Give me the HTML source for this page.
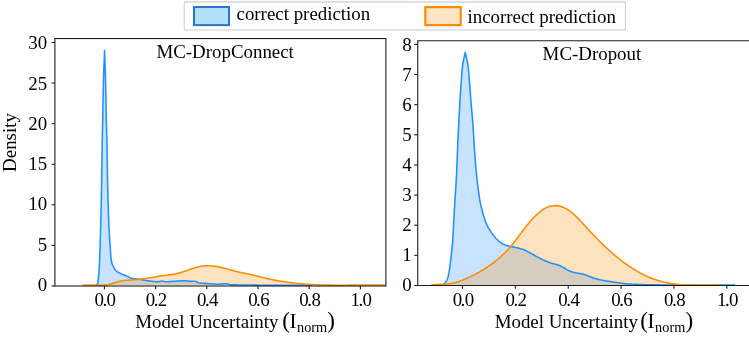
<!DOCTYPE html>
<html><head><meta charset="utf-8"><title>Model uncertainty density</title>
<style>
html,body{margin:0;padding:0;background:#fff;}
body{width:749px;height:337px;overflow:hidden;}
svg{display:block;}
text{font-family:"Liberation Serif","Times New Roman",serif;font-size:18.9px;fill:#000;}
</style></head><body>
<svg width="749" height="337" viewBox="0 0 749 337">
<rect width="749" height="337" fill="#fff"/>
<defs>
<clipPath id="cl"><rect x="54.9" y="38.55" width="331.00" height="248.05"/></clipPath>
<clipPath id="cr"><rect x="417.75" y="40.8" width="340" height="245.30"/></clipPath>
</defs>
<g>
<rect x="184.2" y="1.9" width="441.2" height="28.1" rx="0.8" ry="0.8" fill="#fff" stroke="#cecece" stroke-width="1.1"/>
<rect x="194" y="7" width="35" height="18.1" fill="#b5e0fc" stroke="#2a76cc" stroke-width="2"/>
<text x="236.5" y="20.3" font-size="18.75px">correct prediction</text>
<rect x="425.3" y="7.1" width="35.4" height="18" fill="#ffe3c4" stroke="#ff8c00" stroke-width="2.2"/>
<text x="467.5" y="22.55" font-size="18.75px">incorrect prediction</text>
</g>
<g clip-path="url(#cl)">
<path d="M96.30,285.15 L96.80,284.89 L97.30,284.16 L97.70,283.30 L97.80,282.94 L98.30,278.92 L98.50,277.00 L98.80,274.10 L99.06,271.00 L99.30,267.15 L99.60,261.00 L99.80,255.92 L100.00,250.00 L100.30,240.05 L100.70,225.00 L100.80,221.05 L101.30,200.00 L101.60,185.00 L101.80,172.19 L102.15,148.00 L102.30,139.57 L102.80,114.45 L102.85,112.00 L103.30,88.59 L103.70,72.00 L103.80,69.41 L104.20,61.00 L104.30,58.27 L104.55,50.40 L104.90,61.00 L105.05,64.60 L105.35,72.00 L105.55,80.16 L106.05,107.22 L106.15,112.00 L106.55,127.65 L107.05,148.00 L107.55,179.90 L107.65,185.00 L108.05,200.83 L108.55,216.42 L108.90,225.00 L109.05,228.20 L109.55,237.39 L110.05,245.04 L110.40,250.00 L110.55,252.19 L111.05,258.84 L111.20,260.00 L111.55,261.71 L112.05,263.45 L112.55,264.72 L112.80,265.30 L113.05,265.87 L113.55,266.95 L114.05,267.93 L114.55,268.82 L115.05,269.59 L115.55,270.23 L116.00,270.70 L116.05,270.75 L116.55,271.17 L117.05,271.56 L117.55,271.91 L118.05,272.23 L118.55,272.51 L119.05,272.78 L119.55,273.03 L120.05,273.27 L120.55,273.50 L121.05,273.74 L121.40,273.90 L121.55,273.97 L122.05,274.19 L122.55,274.41 L123.05,274.61 L123.55,274.80 L124.05,274.98 L124.55,275.17 L125.05,275.35 L125.55,275.54 L126.05,275.73 L126.55,275.93 L126.70,276.01 L127.05,276.17 L127.55,276.41 L128.05,276.67 L128.55,276.93 L129.05,277.20 L129.55,277.46 L130.05,277.70 L130.55,277.92 L131.05,278.10 L131.55,278.25 L132.00,278.35 L132.05,278.42 L132.55,278.49 L133.05,278.55 L133.55,278.61 L134.05,278.67 L134.55,278.72 L135.05,278.76 L135.55,278.81 L136.05,278.86 L136.55,278.90 L137.05,278.95 L137.40,278.99 L137.55,279.04 L138.05,279.10 L138.55,279.16 L139.05,279.23 L139.55,279.30 L140.05,279.38 L140.55,279.45 L141.05,279.53 L141.55,279.61 L142.05,279.68 L142.55,279.75 L142.70,279.82 L143.05,279.89 L143.55,279.97 L144.05,280.06 L144.55,280.16 L145.05,280.26 L145.55,280.36 L146.05,280.46 L146.55,280.56 L147.05,280.64 L147.55,280.71 L148.00,280.77 L148.05,280.83 L148.55,280.88 L149.05,280.94 L149.55,281.00 L150.05,281.07 L150.55,281.13 L151.05,281.19 L151.55,281.25 L152.05,281.31 L152.55,281.37 L153.05,281.42 L153.55,281.47 L154.05,281.52 L154.55,281.56 L155.05,281.60 L155.55,281.63 L156.05,281.65 L156.55,281.67 L157.05,281.68 L157.55,281.69 L157.70,281.68 L158.05,281.65 L158.55,281.61 L159.05,281.54 L159.55,281.45 L160.05,281.36 L160.55,281.28 L161.05,281.21 L161.55,281.16 L162.00,281.13 L162.05,281.14 L162.55,281.18 L163.05,281.24 L163.55,281.34 L164.05,281.44 L164.55,281.54 L165.05,281.64 L165.55,281.71 L166.05,281.76 L166.20,281.78 L166.55,281.79 L167.05,281.78 L167.55,281.76 L168.05,281.74 L168.55,281.71 L169.05,281.68 L169.55,281.64 L170.05,281.60 L170.55,281.56 L171.05,281.51 L171.55,281.47 L172.05,281.42 L172.55,281.38 L173.05,281.34 L173.55,281.30 L174.05,281.26 L174.55,281.23 L175.00,281.21 L175.05,281.19 L175.55,281.17 L176.05,281.15 L176.55,281.12 L177.05,281.10 L177.55,281.07 L178.05,281.05 L178.55,281.02 L179.05,281.00 L179.55,280.97 L180.05,280.95 L180.55,280.93 L181.05,280.91 L181.55,280.89 L182.05,280.87 L182.55,280.85 L183.05,280.84 L183.55,280.83 L184.05,280.82 L184.55,280.81 L185.05,280.81 L185.55,280.81 L185.70,280.81 L186.05,280.83 L186.55,280.87 L187.05,280.92 L187.55,280.98 L188.05,281.05 L188.55,281.13 L189.05,281.21 L189.55,281.27 L190.05,281.32 L190.55,281.36 L191.00,281.38 L191.05,281.38 L191.55,281.37 L192.05,281.35 L192.55,281.32 L193.05,281.29 L193.55,281.26 L194.05,281.24 L194.55,281.23 L194.80,281.24 L195.05,281.29 L195.55,281.39 L196.05,281.54 L196.55,281.74 L197.05,281.96 L197.55,282.20 L198.05,282.44 L198.55,282.64 L199.05,282.80 L199.55,282.92 L199.60,283.00 L200.05,283.05 L200.55,283.10 L201.05,283.14 L201.55,283.18 L202.05,283.22 L202.55,283.25 L203.05,283.28 L203.55,283.31 L204.05,283.34 L204.55,283.36 L205.05,283.39 L205.55,283.42 L206.05,283.44 L206.55,283.47 L207.00,283.49 L207.05,283.52 L207.55,283.55 L208.05,283.58 L208.55,283.62 L209.05,283.66 L209.55,283.70 L210.05,283.74 L210.55,283.79 L211.05,283.83 L211.55,283.87 L212.05,283.91 L212.55,283.95 L213.05,283.99 L213.55,284.03 L214.05,284.06 L214.55,284.09 L215.05,284.12 L215.55,284.14 L216.05,284.16 L216.55,284.18 L217.05,284.19 L217.55,284.19 L217.70,284.19 L218.05,284.19 L218.55,284.18 L219.05,284.16 L219.55,284.13 L220.05,284.10 L220.55,284.07 L221.05,284.03 L221.55,283.99 L222.05,283.95 L222.55,283.90 L223.05,283.86 L223.55,283.83 L224.05,283.79 L224.55,283.76 L225.05,283.74 L225.55,283.72 L226.05,283.72 L226.30,283.73 L226.55,283.77 L227.05,283.84 L227.55,283.94 L228.05,284.08 L228.55,284.22 L229.05,284.37 L229.55,284.50 L230.05,284.59 L230.50,284.66 L230.55,284.70 L231.05,284.72 L231.55,284.74 L232.05,284.76 L232.55,284.78 L233.05,284.80 L233.55,284.81 L234.05,284.83 L234.55,284.84 L235.05,284.85 L235.55,284.86 L236.05,284.87 L236.55,284.88 L237.05,284.89 L237.55,284.90 L238.05,284.91 L238.55,284.92 L239.05,284.93 L239.55,284.93 L240.05,284.94 L240.55,284.95 L241.05,284.95 L241.55,284.96 L242.05,284.96 L242.55,284.97 L243.05,284.98 L243.55,284.98 L244.05,284.99 L244.55,284.99 L245.00,285.00 L245.05,285.00 L245.55,285.01 L246.05,285.01 L246.55,285.02 L247.05,285.03 L247.55,285.04 L248.05,285.04 L248.55,285.05 L249.05,285.06 L249.55,285.06 L250.05,285.07 L250.55,285.08 L251.05,285.08 L251.55,285.09 L252.05,285.09 L252.55,285.10 L253.05,285.11 L253.55,285.11 L254.05,285.12 L254.55,285.12 L255.05,285.13 L255.55,285.13 L256.05,285.13 L256.55,285.14 L257.05,285.14 L257.55,285.14 L258.05,285.15 L258.55,285.15 L259.05,285.15 L259.55,285.15 L260.00,285.15 L260.05,285.15 L260.55,285.15 L261.05,285.15 L261.55,285.15 L262.05,285.15 L262.55,285.15 L263.05,285.15 L263.55,285.15 L264.05,285.15 L264.55,285.15 L265.05,285.15 L265.55,285.15 L266.05,285.15 L266.55,285.15 L267.05,285.15 L267.55,285.15 L268.05,285.15 L268.55,285.15 L269.05,285.15 L269.55,285.15 L270.05,285.15 L270.55,285.15 L271.05,285.15 L271.55,285.15 L272.05,285.15 L272.55,285.15 L273.05,285.15 L273.55,285.15 L274.05,285.15 L274.55,285.15 L275.05,285.15 L275.55,285.15 L276.05,285.15 L276.55,285.15 L277.05,285.15 L277.55,285.15 L278.05,285.15 L278.55,285.15 L279.05,285.15 L279.55,285.15 L280.05,285.15 L280.55,285.15 L281.05,285.15 L281.55,285.15 L282.05,285.15 L282.55,285.15 L283.05,285.15 L283.55,285.15 L284.05,285.15 L284.55,285.15 L285.05,285.15 L285.55,285.15 L286.05,285.15 L286.55,285.15 L287.05,285.15 L287.55,285.15 L288.05,285.15 L288.55,285.15 L289.05,285.15 L289.55,285.15 L290.05,285.15 L290.55,285.15 L291.05,285.15 L291.55,285.15 L292.05,285.15 L292.55,285.15 L293.05,285.15 L293.55,285.15 L294.05,285.15 L294.55,285.15 L295.05,285.15 L295.55,285.15 L296.05,285.15 L296.55,285.15 L297.05,285.15 L297.55,285.15 L298.05,285.15 L298.55,285.15 L299.05,285.15 L299.55,285.15 L300.05,285.15 L300.55,285.15 L301.05,285.15 L301.55,285.15 L302.05,285.15 L302.55,285.15 L303.05,285.15 L303.55,285.15 L304.05,285.15 L304.55,285.15 L305.05,285.15 L305.55,285.15 L306.05,285.15 L306.55,285.15 L307.05,285.15 L307.55,285.15 L308.05,285.15 L308.55,285.15 L309.05,285.15 L309.55,285.15 L310.05,285.15 L310.55,285.15 L311.05,285.15 L311.55,285.15 L312.00,285.15 L312.00,285.15 L96.30,285.15 Z" fill="#1e90ff" fill-opacity="0.25" stroke="none"/>
<path d="M83.00,285.15 L83.50,285.11 L84.00,285.07 L84.50,285.03 L85.00,285.01 L85.50,284.98 L86.00,284.97 L86.50,284.95 L87.00,284.95 L87.50,284.94 L88.00,284.94 L88.50,284.94 L89.00,284.95 L89.50,284.96 L90.00,284.97 L90.50,284.98 L91.00,284.99 L91.50,285.01 L92.00,285.03 L92.50,285.05 L93.00,285.07 L93.50,285.09 L94.00,285.11 L94.50,285.13 L95.00,285.15 L95.50,285.15 L96.00,285.15 L96.50,285.15 L97.00,285.15 L97.50,285.15 L98.00,285.15 L98.50,285.15 L99.00,285.15 L99.50,285.15 L100.00,285.15 L100.50,285.15 L101.00,285.15 L101.50,285.15 L102.00,285.15 L102.50,285.15 L103.00,285.15 L103.50,285.14 L104.00,285.10 L104.50,285.06 L105.00,285.01 L105.50,284.95 L106.00,284.89 L106.50,284.81 L107.00,284.74 L107.50,284.65 L108.00,284.56 L108.50,284.45 L109.00,284.35 L109.50,284.23 L110.00,284.11 L110.50,283.99 L111.00,283.86 L111.50,283.72 L112.00,283.58 L112.50,283.44 L113.00,283.29 L113.50,283.15 L114.00,282.99 L114.50,282.84 L115.00,282.69 L115.50,282.54 L116.00,282.39 L116.50,282.24 L117.00,282.09 L117.50,281.94 L118.00,281.80 L118.50,281.66 L119.00,281.52 L119.50,281.39 L120.00,281.27 L120.50,281.15 L121.00,281.04 L121.50,280.94 L122.00,280.84 L122.50,280.75 L123.00,280.67 L123.50,280.60 L124.00,280.53 L124.50,280.46 L125.00,280.41 L125.50,280.35 L126.00,280.30 L126.50,280.26 L127.00,280.22 L127.50,280.18 L128.00,280.14 L128.50,280.11 L129.00,280.08 L129.50,280.04 L130.00,280.01 L130.50,279.98 L131.00,279.95 L131.50,279.92 L132.00,279.89 L132.50,279.86 L133.00,279.83 L133.50,279.79 L134.00,279.75 L134.50,279.72 L135.00,279.68 L135.50,279.63 L136.00,279.59 L136.50,279.55 L137.00,279.50 L137.50,279.46 L138.00,279.41 L138.50,279.36 L139.00,279.31 L139.50,279.26 L140.00,279.20 L140.50,279.15 L141.00,279.09 L141.50,279.04 L142.00,278.98 L142.50,278.92 L143.00,278.85 L143.50,278.79 L144.00,278.73 L144.50,278.66 L145.00,278.60 L145.50,278.53 L146.00,278.46 L146.50,278.39 L147.00,278.32 L147.50,278.24 L148.00,278.17 L148.50,278.09 L149.00,278.01 L149.50,277.93 L150.00,277.85 L150.50,277.77 L151.00,277.69 L151.50,277.61 L152.00,277.52 L152.50,277.43 L153.00,277.35 L153.50,277.26 L154.00,277.17 L154.50,277.08 L155.00,276.98 L155.50,276.89 L156.00,276.80 L156.50,276.71 L157.00,276.61 L157.50,276.52 L158.00,276.43 L158.50,276.34 L159.00,276.25 L159.50,276.16 L160.00,276.07 L160.50,275.98 L161.00,275.90 L161.50,275.82 L162.00,275.74 L162.50,275.66 L163.00,275.58 L163.50,275.51 L164.00,275.44 L164.50,275.38 L165.00,275.32 L165.50,275.26 L166.00,275.20 L166.50,275.15 L167.00,275.09 L167.50,275.04 L168.00,274.99 L168.50,274.94 L169.00,274.88 L169.50,274.83 L170.00,274.77 L170.50,274.71 L171.00,274.65 L171.50,274.59 L172.00,274.52 L172.50,274.45 L173.00,274.38 L173.50,274.30 L174.00,274.22 L174.50,274.12 L175.00,274.03 L175.50,273.93 L176.00,273.82 L176.50,273.70 L177.00,273.58 L177.50,273.46 L178.00,273.33 L178.50,273.19 L179.00,273.05 L179.50,272.91 L180.00,272.76 L180.50,272.61 L181.00,272.45 L181.50,272.30 L182.00,272.13 L182.50,271.97 L183.00,271.80 L183.50,271.63 L184.00,271.46 L184.50,271.29 L185.00,271.12 L185.50,270.94 L186.00,270.76 L186.50,270.59 L187.00,270.41 L187.50,270.23 L188.00,270.05 L188.50,269.87 L189.00,269.70 L189.50,269.52 L190.00,269.35 L190.50,269.17 L191.00,269.00 L191.50,268.83 L192.00,268.66 L192.50,268.49 L193.00,268.33 L193.50,268.16 L194.00,268.01 L194.50,267.85 L195.00,267.70 L195.50,267.55 L196.00,267.41 L196.50,267.27 L197.00,267.13 L197.50,267.00 L198.00,266.88 L198.50,266.76 L199.00,266.64 L199.50,266.53 L200.00,266.43 L200.50,266.33 L201.00,266.24 L201.50,266.16 L202.00,266.09 L202.50,266.02 L203.00,265.95 L203.50,265.90 L204.00,265.85 L204.50,265.81 L205.00,265.77 L205.50,265.74 L206.00,265.72 L206.50,265.71 L207.00,265.69 L207.50,265.69 L208.00,265.69 L208.50,265.70 L209.00,265.71 L209.50,265.73 L210.00,265.75 L210.50,265.78 L211.00,265.82 L211.50,265.86 L212.00,265.90 L212.50,265.95 L213.00,266.00 L213.50,266.06 L214.00,266.12 L214.50,266.19 L215.00,266.26 L215.50,266.34 L216.00,266.42 L216.50,266.50 L217.00,266.59 L217.50,266.68 L218.00,266.77 L218.50,266.87 L219.00,266.97 L219.50,267.07 L220.00,267.18 L220.50,267.29 L221.00,267.41 L221.50,267.52 L222.00,267.64 L222.50,267.76 L223.00,267.89 L223.50,268.01 L224.00,268.14 L224.50,268.27 L225.00,268.41 L225.50,268.54 L226.00,268.67 L226.50,268.81 L227.00,268.95 L227.50,269.09 L228.00,269.23 L228.50,269.37 L229.00,269.51 L229.50,269.65 L230.00,269.79 L230.50,269.93 L231.00,270.07 L231.50,270.21 L232.00,270.35 L232.50,270.49 L233.00,270.63 L233.50,270.77 L234.00,270.90 L234.50,271.04 L235.00,271.17 L235.50,271.30 L236.00,271.43 L236.50,271.56 L237.00,271.68 L237.50,271.80 L238.00,271.92 L238.50,272.04 L239.00,272.15 L239.50,272.26 L240.00,272.37 L240.50,272.47 L241.00,272.58 L241.50,272.68 L242.00,272.77 L242.50,272.87 L243.00,272.97 L243.50,273.06 L244.00,273.15 L244.50,273.25 L245.00,273.34 L245.50,273.43 L246.00,273.53 L246.50,273.62 L247.00,273.72 L247.50,273.82 L248.00,273.91 L248.50,274.02 L249.00,274.12 L249.50,274.22 L250.00,274.33 L250.50,274.44 L251.00,274.56 L251.50,274.67 L252.00,274.79 L252.50,274.91 L253.00,275.04 L253.50,275.16 L254.00,275.29 L254.50,275.41 L255.00,275.54 L255.50,275.67 L256.00,275.80 L256.50,275.93 L257.00,276.06 L257.50,276.19 L258.00,276.33 L258.50,276.46 L259.00,276.59 L259.50,276.72 L260.00,276.85 L260.50,276.98 L261.00,277.10 L261.50,277.23 L262.00,277.36 L262.50,277.48 L263.00,277.60 L263.50,277.72 L264.00,277.84 L264.50,277.96 L265.00,278.08 L265.50,278.20 L266.00,278.31 L266.50,278.43 L267.00,278.54 L267.50,278.65 L268.00,278.76 L268.50,278.87 L269.00,278.98 L269.50,279.09 L270.00,279.19 L270.50,279.30 L271.00,279.40 L271.50,279.51 L272.00,279.61 L272.50,279.71 L273.00,279.81 L273.50,279.91 L274.00,280.00 L274.50,280.10 L275.00,280.19 L275.50,280.29 L276.00,280.38 L276.50,280.47 L277.00,280.56 L277.50,280.65 L278.00,280.74 L278.50,280.83 L279.00,280.92 L279.50,281.00 L280.00,281.09 L280.50,281.17 L281.00,281.25 L281.50,281.33 L282.00,281.41 L282.50,281.49 L283.00,281.57 L283.50,281.65 L284.00,281.72 L284.50,281.80 L285.00,281.87 L285.50,281.95 L286.00,282.02 L286.50,282.09 L287.00,282.16 L287.50,282.23 L288.00,282.30 L288.50,282.36 L289.00,282.43 L289.50,282.50 L290.00,282.56 L290.50,282.62 L291.00,282.69 L291.50,282.75 L292.00,282.81 L292.50,282.87 L293.00,282.93 L293.50,282.99 L294.00,283.04 L294.50,283.10 L295.00,283.15 L295.50,283.21 L296.00,283.26 L296.50,283.31 L297.00,283.36 L297.50,283.42 L298.00,283.47 L298.50,283.51 L299.00,283.56 L299.50,283.61 L300.00,283.66 L300.50,283.70 L301.00,283.75 L301.50,283.79 L302.00,283.83 L302.50,283.88 L303.00,283.92 L303.50,283.96 L304.00,284.00 L304.50,284.04 L305.00,284.07 L305.50,284.11 L306.00,284.15 L306.50,284.18 L307.00,284.22 L307.50,284.25 L308.00,284.29 L308.50,284.32 L309.00,284.35 L309.50,284.38 L310.00,284.41 L310.50,284.44 L311.00,284.47 L311.50,284.50 L312.00,284.53 L312.50,284.55 L313.00,284.58 L313.50,284.60 L314.00,284.63 L314.50,284.65 L315.00,284.68 L315.50,284.70 L316.00,284.72 L316.50,284.74 L317.00,284.76 L317.50,284.78 L318.00,284.80 L318.50,284.82 L319.00,284.84 L319.50,284.86 L320.00,284.88 L320.50,284.89 L321.00,284.91 L321.50,284.93 L322.00,284.94 L322.50,284.96 L323.00,284.97 L323.50,284.98 L324.00,285.00 L324.50,285.01 L325.00,285.02 L325.50,285.03 L326.00,285.04 L326.50,285.05 L327.00,285.06 L327.50,285.07 L328.00,285.08 L328.50,285.09 L329.00,285.10 L329.50,285.11 L330.00,285.11 L330.50,285.12 L331.00,285.13 L331.50,285.13 L332.00,285.14 L332.50,285.14 L333.00,285.15 L333.50,285.15 L334.00,285.15 L334.50,285.15 L335.00,285.15 L335.50,285.15 L336.00,285.15 L336.50,285.15 L337.00,285.15 L337.50,285.15 L338.00,285.15 L338.50,285.15 L339.00,285.15 L339.50,285.15 L340.00,285.15 L340.50,285.15 L341.00,285.15 L341.50,285.15 L342.00,285.15 L342.50,285.15 L343.00,285.15 L343.50,285.15 L344.00,285.15 L344.50,285.15 L345.00,285.15 L345.50,285.15 L346.00,285.15 L346.50,285.15 L347.00,285.15 L347.50,285.15 L348.00,285.15 L348.50,285.15 L349.00,285.15 L349.50,285.14 L350.00,285.14 L350.50,285.14 L351.00,285.13 L351.50,285.13 L352.00,285.13 L352.50,285.12 L353.00,285.12 L353.50,285.11 L354.00,285.11 L354.50,285.10 L355.00,285.10 L355.50,285.09 L356.00,285.09 L356.50,285.09 L357.00,285.08 L357.50,285.08 L358.00,285.07 L358.50,285.07 L359.00,285.06 L359.50,285.06 L360.00,285.05 L360.50,285.05 L361.00,285.04 L361.50,285.04 L362.00,285.03 L362.50,285.03 L363.00,285.03 L363.50,285.02 L364.00,285.02 L364.50,285.01 L365.00,285.01 L365.50,285.01 L366.00,285.00 L366.50,285.00 L367.00,284.99 L367.50,284.99 L368.00,284.99 L368.50,284.99 L369.00,284.98 L369.50,284.98 L370.00,284.98 L370.50,284.97 L371.00,284.97 L371.50,284.97 L372.00,284.97 L372.50,284.97 L373.00,284.97 L373.50,284.96 L374.00,284.96 L374.50,284.96 L375.00,284.96 L375.50,284.96 L376.00,284.96 L376.50,284.96 L377.00,284.96 L377.50,284.96 L378.00,284.97 L378.50,284.97 L379.00,284.97 L379.50,284.97 L380.00,284.97 L380.50,284.98 L381.00,284.98 L381.50,284.98 L382.00,284.99 L382.50,284.99 L383.00,285.00 L383.50,285.00 L384.00,285.01 L384.50,285.01 L385.00,285.02 L385.50,285.02 L386.00,285.03 L386.50,285.04 L387.00,285.05 L387.50,285.06 L388.00,285.06 L388.50,285.07 L389.00,285.08 L389.50,285.09 L390.00,285.10 L390.50,285.11 L391.00,285.13 L391.50,285.14 L392.00,285.15 L392.00,285.15 L83.00,285.15 Z" fill="#ff8c00" fill-opacity="0.25" stroke="none"/>
<path d="M96.30,285.15 L96.80,284.89 L97.30,284.16 L97.70,283.30 L97.80,282.94 L98.30,278.92 L98.50,277.00 L98.80,274.10 L99.06,271.00 L99.30,267.15 L99.60,261.00 L99.80,255.92 L100.00,250.00 L100.30,240.05 L100.70,225.00 L100.80,221.05 L101.30,200.00 L101.60,185.00 L101.80,172.19 L102.15,148.00 L102.30,139.57 L102.80,114.45 L102.85,112.00 L103.30,88.59 L103.70,72.00 L103.80,69.41 L104.20,61.00 L104.30,58.27 L104.55,50.40 L104.90,61.00 L105.05,64.60 L105.35,72.00 L105.55,80.16 L106.05,107.22 L106.15,112.00 L106.55,127.65 L107.05,148.00 L107.55,179.90 L107.65,185.00 L108.05,200.83 L108.55,216.42 L108.90,225.00 L109.05,228.20 L109.55,237.39 L110.05,245.04 L110.40,250.00 L110.55,252.19 L111.05,258.84 L111.20,260.00 L111.55,261.71 L112.05,263.45 L112.55,264.72 L112.80,265.30 L113.05,265.87 L113.55,266.95 L114.05,267.93 L114.55,268.82 L115.05,269.59 L115.55,270.23 L116.00,270.70 L116.05,270.75 L116.55,271.17 L117.05,271.56 L117.55,271.91 L118.05,272.23 L118.55,272.51 L119.05,272.78 L119.55,273.03 L120.05,273.27 L120.55,273.50 L121.05,273.74 L121.40,273.90 L121.55,273.97 L122.05,274.19 L122.55,274.41 L123.05,274.61 L123.55,274.80 L124.05,274.98 L124.55,275.17 L125.05,275.35 L125.55,275.54 L126.05,275.73 L126.55,275.93 L126.70,276.01 L127.05,276.17 L127.55,276.41 L128.05,276.67 L128.55,276.93 L129.05,277.20 L129.55,277.46 L130.05,277.70 L130.55,277.92 L131.05,278.10 L131.55,278.25 L132.00,278.35 L132.05,278.42 L132.55,278.49 L133.05,278.55 L133.55,278.61 L134.05,278.67 L134.55,278.72 L135.05,278.76 L135.55,278.81 L136.05,278.86 L136.55,278.90 L137.05,278.95 L137.40,278.99 L137.55,279.04 L138.05,279.10 L138.55,279.16 L139.05,279.23 L139.55,279.30 L140.05,279.38 L140.55,279.45 L141.05,279.53 L141.55,279.61 L142.05,279.68 L142.55,279.75 L142.70,279.82 L143.05,279.89 L143.55,279.97 L144.05,280.06 L144.55,280.16 L145.05,280.26 L145.55,280.36 L146.05,280.46 L146.55,280.56 L147.05,280.64 L147.55,280.71 L148.00,280.77 L148.05,280.83 L148.55,280.88 L149.05,280.94 L149.55,281.00 L150.05,281.07 L150.55,281.13 L151.05,281.19 L151.55,281.25 L152.05,281.31 L152.55,281.37 L153.05,281.42 L153.55,281.47 L154.05,281.52 L154.55,281.56 L155.05,281.60 L155.55,281.63 L156.05,281.65 L156.55,281.67 L157.05,281.68 L157.55,281.69 L157.70,281.68 L158.05,281.65 L158.55,281.61 L159.05,281.54 L159.55,281.45 L160.05,281.36 L160.55,281.28 L161.05,281.21 L161.55,281.16 L162.00,281.13 L162.05,281.14 L162.55,281.18 L163.05,281.24 L163.55,281.34 L164.05,281.44 L164.55,281.54 L165.05,281.64 L165.55,281.71 L166.05,281.76 L166.20,281.78 L166.55,281.79 L167.05,281.78 L167.55,281.76 L168.05,281.74 L168.55,281.71 L169.05,281.68 L169.55,281.64 L170.05,281.60 L170.55,281.56 L171.05,281.51 L171.55,281.47 L172.05,281.42 L172.55,281.38 L173.05,281.34 L173.55,281.30 L174.05,281.26 L174.55,281.23 L175.00,281.21 L175.05,281.19 L175.55,281.17 L176.05,281.15 L176.55,281.12 L177.05,281.10 L177.55,281.07 L178.05,281.05 L178.55,281.02 L179.05,281.00 L179.55,280.97 L180.05,280.95 L180.55,280.93 L181.05,280.91 L181.55,280.89 L182.05,280.87 L182.55,280.85 L183.05,280.84 L183.55,280.83 L184.05,280.82 L184.55,280.81 L185.05,280.81 L185.55,280.81 L185.70,280.81 L186.05,280.83 L186.55,280.87 L187.05,280.92 L187.55,280.98 L188.05,281.05 L188.55,281.13 L189.05,281.21 L189.55,281.27 L190.05,281.32 L190.55,281.36 L191.00,281.38 L191.05,281.38 L191.55,281.37 L192.05,281.35 L192.55,281.32 L193.05,281.29 L193.55,281.26 L194.05,281.24 L194.55,281.23 L194.80,281.24 L195.05,281.29 L195.55,281.39 L196.05,281.54 L196.55,281.74 L197.05,281.96 L197.55,282.20 L198.05,282.44 L198.55,282.64 L199.05,282.80 L199.55,282.92 L199.60,283.00 L200.05,283.05 L200.55,283.10 L201.05,283.14 L201.55,283.18 L202.05,283.22 L202.55,283.25 L203.05,283.28 L203.55,283.31 L204.05,283.34 L204.55,283.36 L205.05,283.39 L205.55,283.42 L206.05,283.44 L206.55,283.47 L207.00,283.49 L207.05,283.52 L207.55,283.55 L208.05,283.58 L208.55,283.62 L209.05,283.66 L209.55,283.70 L210.05,283.74 L210.55,283.79 L211.05,283.83 L211.55,283.87 L212.05,283.91 L212.55,283.95 L213.05,283.99 L213.55,284.03 L214.05,284.06 L214.55,284.09 L215.05,284.12 L215.55,284.14 L216.05,284.16 L216.55,284.18 L217.05,284.19 L217.55,284.19 L217.70,284.19 L218.05,284.19 L218.55,284.18 L219.05,284.16 L219.55,284.13 L220.05,284.10 L220.55,284.07 L221.05,284.03 L221.55,283.99 L222.05,283.95 L222.55,283.90 L223.05,283.86 L223.55,283.83 L224.05,283.79 L224.55,283.76 L225.05,283.74 L225.55,283.72 L226.05,283.72 L226.30,283.73 L226.55,283.77 L227.05,283.84 L227.55,283.94 L228.05,284.08 L228.55,284.22 L229.05,284.37 L229.55,284.50 L230.05,284.59 L230.50,284.66 L230.55,284.70 L231.05,284.72 L231.55,284.74 L232.05,284.76 L232.55,284.78 L233.05,284.80 L233.55,284.81 L234.05,284.83 L234.55,284.84 L235.05,284.85 L235.55,284.86 L236.05,284.87 L236.55,284.88 L237.05,284.89 L237.55,284.90 L238.05,284.91 L238.55,284.92 L239.05,284.93 L239.55,284.93 L240.05,284.94 L240.55,284.95 L241.05,284.95 L241.55,284.96 L242.05,284.96 L242.55,284.97 L243.05,284.98 L243.55,284.98 L244.05,284.99 L244.55,284.99 L245.00,285.00 L245.05,285.00 L245.55,285.01 L246.05,285.01 L246.55,285.02 L247.05,285.03 L247.55,285.04 L248.05,285.04 L248.55,285.05 L249.05,285.06 L249.55,285.06 L250.05,285.07 L250.55,285.08 L251.05,285.08 L251.55,285.09 L252.05,285.09 L252.55,285.10 L253.05,285.11 L253.55,285.11 L254.05,285.12 L254.55,285.12 L255.05,285.13 L255.55,285.13 L256.05,285.13 L256.55,285.14 L257.05,285.14 L257.55,285.14 L258.05,285.15 L258.55,285.15 L259.05,285.15 L259.55,285.15 L260.00,285.15 L260.05,285.15 L260.55,285.15 L261.05,285.15 L261.55,285.15 L262.05,285.15 L262.55,285.15 L263.05,285.15 L263.55,285.15 L264.05,285.15 L264.55,285.15 L265.05,285.15 L265.55,285.15 L266.05,285.15 L266.55,285.15 L267.05,285.15 L267.55,285.15 L268.05,285.15 L268.55,285.15 L269.05,285.15 L269.55,285.15 L270.05,285.15 L270.55,285.15 L271.05,285.15 L271.55,285.15 L272.05,285.15 L272.55,285.15 L273.05,285.15 L273.55,285.15 L274.05,285.15 L274.55,285.15 L275.05,285.15 L275.55,285.15 L276.05,285.15 L276.55,285.15 L277.05,285.15 L277.55,285.15 L278.05,285.15 L278.55,285.15 L279.05,285.15 L279.55,285.15 L280.05,285.15 L280.55,285.15 L281.05,285.15 L281.55,285.15 L282.05,285.15 L282.55,285.15 L283.05,285.15 L283.55,285.15 L284.05,285.15 L284.55,285.15 L285.05,285.15 L285.55,285.15 L286.05,285.15 L286.55,285.15 L287.05,285.15 L287.55,285.15 L288.05,285.15 L288.55,285.15 L289.05,285.15 L289.55,285.15 L290.05,285.15 L290.55,285.15 L291.05,285.15 L291.55,285.15 L292.05,285.15 L292.55,285.15 L293.05,285.15 L293.55,285.15 L294.05,285.15 L294.55,285.15 L295.05,285.15 L295.55,285.15 L296.05,285.15 L296.55,285.15 L297.05,285.15 L297.55,285.15 L298.05,285.15 L298.55,285.15 L299.05,285.15 L299.55,285.15 L300.05,285.15 L300.55,285.15 L301.05,285.15 L301.55,285.15 L302.05,285.15 L302.55,285.15 L303.05,285.15 L303.55,285.15 L304.05,285.15 L304.55,285.15 L305.05,285.15 L305.55,285.15 L306.05,285.15 L306.55,285.15 L307.05,285.15 L307.55,285.15 L308.05,285.15 L308.55,285.15 L309.05,285.15 L309.55,285.15 L310.05,285.15 L310.55,285.15 L311.05,285.15 L311.55,285.15 L312.00,285.15" fill="none" stroke="#1e90ff" stroke-width="1.55" stroke-linejoin="round"/>
<path d="M83.00,285.15 L83.50,285.11 L84.00,285.07 L84.50,285.03 L85.00,285.01 L85.50,284.98 L86.00,284.97 L86.50,284.95 L87.00,284.95 L87.50,284.94 L88.00,284.94 L88.50,284.94 L89.00,284.95 L89.50,284.96 L90.00,284.97 L90.50,284.98 L91.00,284.99 L91.50,285.01 L92.00,285.03 L92.50,285.05 L93.00,285.07 L93.50,285.09 L94.00,285.11 L94.50,285.13 L95.00,285.15 L95.50,285.15 L96.00,285.15 L96.50,285.15 L97.00,285.15 L97.50,285.15 L98.00,285.15 L98.50,285.15 L99.00,285.15 L99.50,285.15 L100.00,285.15 L100.50,285.15 L101.00,285.15 L101.50,285.15 L102.00,285.15 L102.50,285.15 L103.00,285.15 L103.50,285.14 L104.00,285.10 L104.50,285.06 L105.00,285.01 L105.50,284.95 L106.00,284.89 L106.50,284.81 L107.00,284.74 L107.50,284.65 L108.00,284.56 L108.50,284.45 L109.00,284.35 L109.50,284.23 L110.00,284.11 L110.50,283.99 L111.00,283.86 L111.50,283.72 L112.00,283.58 L112.50,283.44 L113.00,283.29 L113.50,283.15 L114.00,282.99 L114.50,282.84 L115.00,282.69 L115.50,282.54 L116.00,282.39 L116.50,282.24 L117.00,282.09 L117.50,281.94 L118.00,281.80 L118.50,281.66 L119.00,281.52 L119.50,281.39 L120.00,281.27 L120.50,281.15 L121.00,281.04 L121.50,280.94 L122.00,280.84 L122.50,280.75 L123.00,280.67 L123.50,280.60 L124.00,280.53 L124.50,280.46 L125.00,280.41 L125.50,280.35 L126.00,280.30 L126.50,280.26 L127.00,280.22 L127.50,280.18 L128.00,280.14 L128.50,280.11 L129.00,280.08 L129.50,280.04 L130.00,280.01 L130.50,279.98 L131.00,279.95 L131.50,279.92 L132.00,279.89 L132.50,279.86 L133.00,279.83 L133.50,279.79 L134.00,279.75 L134.50,279.72 L135.00,279.68 L135.50,279.63 L136.00,279.59 L136.50,279.55 L137.00,279.50 L137.50,279.46 L138.00,279.41 L138.50,279.36 L139.00,279.31 L139.50,279.26 L140.00,279.20 L140.50,279.15 L141.00,279.09 L141.50,279.04 L142.00,278.98 L142.50,278.92 L143.00,278.85 L143.50,278.79 L144.00,278.73 L144.50,278.66 L145.00,278.60 L145.50,278.53 L146.00,278.46 L146.50,278.39 L147.00,278.32 L147.50,278.24 L148.00,278.17 L148.50,278.09 L149.00,278.01 L149.50,277.93 L150.00,277.85 L150.50,277.77 L151.00,277.69 L151.50,277.61 L152.00,277.52 L152.50,277.43 L153.00,277.35 L153.50,277.26 L154.00,277.17 L154.50,277.08 L155.00,276.98 L155.50,276.89 L156.00,276.80 L156.50,276.71 L157.00,276.61 L157.50,276.52 L158.00,276.43 L158.50,276.34 L159.00,276.25 L159.50,276.16 L160.00,276.07 L160.50,275.98 L161.00,275.90 L161.50,275.82 L162.00,275.74 L162.50,275.66 L163.00,275.58 L163.50,275.51 L164.00,275.44 L164.50,275.38 L165.00,275.32 L165.50,275.26 L166.00,275.20 L166.50,275.15 L167.00,275.09 L167.50,275.04 L168.00,274.99 L168.50,274.94 L169.00,274.88 L169.50,274.83 L170.00,274.77 L170.50,274.71 L171.00,274.65 L171.50,274.59 L172.00,274.52 L172.50,274.45 L173.00,274.38 L173.50,274.30 L174.00,274.22 L174.50,274.12 L175.00,274.03 L175.50,273.93 L176.00,273.82 L176.50,273.70 L177.00,273.58 L177.50,273.46 L178.00,273.33 L178.50,273.19 L179.00,273.05 L179.50,272.91 L180.00,272.76 L180.50,272.61 L181.00,272.45 L181.50,272.30 L182.00,272.13 L182.50,271.97 L183.00,271.80 L183.50,271.63 L184.00,271.46 L184.50,271.29 L185.00,271.12 L185.50,270.94 L186.00,270.76 L186.50,270.59 L187.00,270.41 L187.50,270.23 L188.00,270.05 L188.50,269.87 L189.00,269.70 L189.50,269.52 L190.00,269.35 L190.50,269.17 L191.00,269.00 L191.50,268.83 L192.00,268.66 L192.50,268.49 L193.00,268.33 L193.50,268.16 L194.00,268.01 L194.50,267.85 L195.00,267.70 L195.50,267.55 L196.00,267.41 L196.50,267.27 L197.00,267.13 L197.50,267.00 L198.00,266.88 L198.50,266.76 L199.00,266.64 L199.50,266.53 L200.00,266.43 L200.50,266.33 L201.00,266.24 L201.50,266.16 L202.00,266.09 L202.50,266.02 L203.00,265.95 L203.50,265.90 L204.00,265.85 L204.50,265.81 L205.00,265.77 L205.50,265.74 L206.00,265.72 L206.50,265.71 L207.00,265.69 L207.50,265.69 L208.00,265.69 L208.50,265.70 L209.00,265.71 L209.50,265.73 L210.00,265.75 L210.50,265.78 L211.00,265.82 L211.50,265.86 L212.00,265.90 L212.50,265.95 L213.00,266.00 L213.50,266.06 L214.00,266.12 L214.50,266.19 L215.00,266.26 L215.50,266.34 L216.00,266.42 L216.50,266.50 L217.00,266.59 L217.50,266.68 L218.00,266.77 L218.50,266.87 L219.00,266.97 L219.50,267.07 L220.00,267.18 L220.50,267.29 L221.00,267.41 L221.50,267.52 L222.00,267.64 L222.50,267.76 L223.00,267.89 L223.50,268.01 L224.00,268.14 L224.50,268.27 L225.00,268.41 L225.50,268.54 L226.00,268.67 L226.50,268.81 L227.00,268.95 L227.50,269.09 L228.00,269.23 L228.50,269.37 L229.00,269.51 L229.50,269.65 L230.00,269.79 L230.50,269.93 L231.00,270.07 L231.50,270.21 L232.00,270.35 L232.50,270.49 L233.00,270.63 L233.50,270.77 L234.00,270.90 L234.50,271.04 L235.00,271.17 L235.50,271.30 L236.00,271.43 L236.50,271.56 L237.00,271.68 L237.50,271.80 L238.00,271.92 L238.50,272.04 L239.00,272.15 L239.50,272.26 L240.00,272.37 L240.50,272.47 L241.00,272.58 L241.50,272.68 L242.00,272.77 L242.50,272.87 L243.00,272.97 L243.50,273.06 L244.00,273.15 L244.50,273.25 L245.00,273.34 L245.50,273.43 L246.00,273.53 L246.50,273.62 L247.00,273.72 L247.50,273.82 L248.00,273.91 L248.50,274.02 L249.00,274.12 L249.50,274.22 L250.00,274.33 L250.50,274.44 L251.00,274.56 L251.50,274.67 L252.00,274.79 L252.50,274.91 L253.00,275.04 L253.50,275.16 L254.00,275.29 L254.50,275.41 L255.00,275.54 L255.50,275.67 L256.00,275.80 L256.50,275.93 L257.00,276.06 L257.50,276.19 L258.00,276.33 L258.50,276.46 L259.00,276.59 L259.50,276.72 L260.00,276.85 L260.50,276.98 L261.00,277.10 L261.50,277.23 L262.00,277.36 L262.50,277.48 L263.00,277.60 L263.50,277.72 L264.00,277.84 L264.50,277.96 L265.00,278.08 L265.50,278.20 L266.00,278.31 L266.50,278.43 L267.00,278.54 L267.50,278.65 L268.00,278.76 L268.50,278.87 L269.00,278.98 L269.50,279.09 L270.00,279.19 L270.50,279.30 L271.00,279.40 L271.50,279.51 L272.00,279.61 L272.50,279.71 L273.00,279.81 L273.50,279.91 L274.00,280.00 L274.50,280.10 L275.00,280.19 L275.50,280.29 L276.00,280.38 L276.50,280.47 L277.00,280.56 L277.50,280.65 L278.00,280.74 L278.50,280.83 L279.00,280.92 L279.50,281.00 L280.00,281.09 L280.50,281.17 L281.00,281.25 L281.50,281.33 L282.00,281.41 L282.50,281.49 L283.00,281.57 L283.50,281.65 L284.00,281.72 L284.50,281.80 L285.00,281.87 L285.50,281.95 L286.00,282.02 L286.50,282.09 L287.00,282.16 L287.50,282.23 L288.00,282.30 L288.50,282.36 L289.00,282.43 L289.50,282.50 L290.00,282.56 L290.50,282.62 L291.00,282.69 L291.50,282.75 L292.00,282.81 L292.50,282.87 L293.00,282.93 L293.50,282.99 L294.00,283.04 L294.50,283.10 L295.00,283.15 L295.50,283.21 L296.00,283.26 L296.50,283.31 L297.00,283.36 L297.50,283.42 L298.00,283.47 L298.50,283.51 L299.00,283.56 L299.50,283.61 L300.00,283.66 L300.50,283.70 L301.00,283.75 L301.50,283.79 L302.00,283.83 L302.50,283.88 L303.00,283.92 L303.50,283.96 L304.00,284.00 L304.50,284.04 L305.00,284.07 L305.50,284.11 L306.00,284.15 L306.50,284.18 L307.00,284.22 L307.50,284.25 L308.00,284.29 L308.50,284.32 L309.00,284.35 L309.50,284.38 L310.00,284.41 L310.50,284.44 L311.00,284.47 L311.50,284.50 L312.00,284.53 L312.50,284.55 L313.00,284.58 L313.50,284.60 L314.00,284.63 L314.50,284.65 L315.00,284.68 L315.50,284.70 L316.00,284.72 L316.50,284.74 L317.00,284.76 L317.50,284.78 L318.00,284.80 L318.50,284.82 L319.00,284.84 L319.50,284.86 L320.00,284.88 L320.50,284.89 L321.00,284.91 L321.50,284.93 L322.00,284.94 L322.50,284.96 L323.00,284.97 L323.50,284.98 L324.00,285.00 L324.50,285.01 L325.00,285.02 L325.50,285.03 L326.00,285.04 L326.50,285.05 L327.00,285.06 L327.50,285.07 L328.00,285.08 L328.50,285.09 L329.00,285.10 L329.50,285.11 L330.00,285.11 L330.50,285.12 L331.00,285.13 L331.50,285.13 L332.00,285.14 L332.50,285.14 L333.00,285.15 L333.50,285.15 L334.00,285.15 L334.50,285.15 L335.00,285.15 L335.50,285.15 L336.00,285.15 L336.50,285.15 L337.00,285.15 L337.50,285.15 L338.00,285.15 L338.50,285.15 L339.00,285.15 L339.50,285.15 L340.00,285.15 L340.50,285.15 L341.00,285.15 L341.50,285.15 L342.00,285.15 L342.50,285.15 L343.00,285.15 L343.50,285.15 L344.00,285.15 L344.50,285.15 L345.00,285.15 L345.50,285.15 L346.00,285.15 L346.50,285.15 L347.00,285.15 L347.50,285.15 L348.00,285.15 L348.50,285.15 L349.00,285.15 L349.50,285.14 L350.00,285.14 L350.50,285.14 L351.00,285.13 L351.50,285.13 L352.00,285.13 L352.50,285.12 L353.00,285.12 L353.50,285.11 L354.00,285.11 L354.50,285.10 L355.00,285.10 L355.50,285.09 L356.00,285.09 L356.50,285.09 L357.00,285.08 L357.50,285.08 L358.00,285.07 L358.50,285.07 L359.00,285.06 L359.50,285.06 L360.00,285.05 L360.50,285.05 L361.00,285.04 L361.50,285.04 L362.00,285.03 L362.50,285.03 L363.00,285.03 L363.50,285.02 L364.00,285.02 L364.50,285.01 L365.00,285.01 L365.50,285.01 L366.00,285.00 L366.50,285.00 L367.00,284.99 L367.50,284.99 L368.00,284.99 L368.50,284.99 L369.00,284.98 L369.50,284.98 L370.00,284.98 L370.50,284.97 L371.00,284.97 L371.50,284.97 L372.00,284.97 L372.50,284.97 L373.00,284.97 L373.50,284.96 L374.00,284.96 L374.50,284.96 L375.00,284.96 L375.50,284.96 L376.00,284.96 L376.50,284.96 L377.00,284.96 L377.50,284.96 L378.00,284.97 L378.50,284.97 L379.00,284.97 L379.50,284.97 L380.00,284.97 L380.50,284.98 L381.00,284.98 L381.50,284.98 L382.00,284.99 L382.50,284.99 L383.00,285.00 L383.50,285.00 L384.00,285.01 L384.50,285.01 L385.00,285.02 L385.50,285.02 L386.00,285.03 L386.50,285.04 L387.00,285.05 L387.50,285.06 L388.00,285.06 L388.50,285.07 L389.00,285.08 L389.50,285.09 L390.00,285.10 L390.50,285.11 L391.00,285.13 L391.50,285.14 L392.00,285.15" fill="none" stroke="#ff8c00" stroke-width="1.55" stroke-linejoin="round"/>
</g>
<rect x="54.9" y="38.55" width="331.00" height="247.45" fill="none" stroke="#1c1c1c" stroke-width="1.1"/>
<line x1="51.60" x2="54.9" y1="286.00" y2="286.00" stroke="#1c1c1c" stroke-width="1.1"/><text x="47.2" y="291.15" text-anchor="end">0</text>
<line x1="51.60" x2="54.9" y1="245.41" y2="245.41" stroke="#1c1c1c" stroke-width="1.1"/><text x="47.2" y="250.82" text-anchor="end">5</text>
<line x1="51.60" x2="54.9" y1="204.83" y2="204.83" stroke="#1c1c1c" stroke-width="1.1"/><text x="47.2" y="210.49" text-anchor="end">10</text>
<line x1="51.60" x2="54.9" y1="164.25" y2="164.25" stroke="#1c1c1c" stroke-width="1.1"/><text x="47.2" y="170.16" text-anchor="end">15</text>
<line x1="51.60" x2="54.9" y1="123.66" y2="123.66" stroke="#1c1c1c" stroke-width="1.1"/><text x="47.2" y="129.83" text-anchor="end">20</text>
<line x1="51.60" x2="54.9" y1="83.07" y2="83.07" stroke="#1c1c1c" stroke-width="1.1"/><text x="47.2" y="89.50" text-anchor="end">25</text>
<line x1="51.60" x2="54.9" y1="42.49" y2="42.49" stroke="#1c1c1c" stroke-width="1.1"/><text x="47.2" y="49.17" text-anchor="end">30</text>
<line x1="104.40" x2="104.40" y1="286.0" y2="289.30" stroke="#1c1c1c" stroke-width="1.1"/><text x="105.30" y="305.5" text-anchor="middle">0<tspan dx="-1.5">.</tspan><tspan dx="-0.6">0</tspan></text>
<line x1="155.60" x2="155.60" y1="286.0" y2="289.30" stroke="#1c1c1c" stroke-width="1.1"/><text x="156.50" y="305.5" text-anchor="middle">0<tspan dx="-1.5">.</tspan><tspan dx="-0.6">2</tspan></text>
<line x1="206.80" x2="206.80" y1="286.0" y2="289.30" stroke="#1c1c1c" stroke-width="1.1"/><text x="207.70" y="305.5" text-anchor="middle">0<tspan dx="-1.5">.</tspan><tspan dx="-0.6">4</tspan></text>
<line x1="258.00" x2="258.00" y1="286.0" y2="289.30" stroke="#1c1c1c" stroke-width="1.1"/><text x="258.90" y="305.5" text-anchor="middle">0<tspan dx="-1.5">.</tspan><tspan dx="-0.6">6</tspan></text>
<line x1="309.20" x2="309.20" y1="286.0" y2="289.30" stroke="#1c1c1c" stroke-width="1.1"/><text x="310.10" y="305.5" text-anchor="middle">0<tspan dx="-1.5">.</tspan><tspan dx="-0.6">8</tspan></text>
<line x1="360.40" x2="360.40" y1="286.0" y2="289.30" stroke="#1c1c1c" stroke-width="1.1"/><text x="361.30" y="305.5" text-anchor="middle">1<tspan dx="-1.5">.</tspan><tspan dx="-0.6">0</tspan></text>
<text transform="translate(16.1,171.9) rotate(-90)">Density</text>
<text x="156.4" y="58.4">MC-DropConnect</text>
<text x="135.2" y="327.7" font-size="18.85px">Model Uncertainty</text><text y="327.7"><tspan x="282.2" y="328.0" font-size="23px">(</tspan><tspan x="289.5" y="327.7" font-size="21px">I</tspan><tspan x="297.0" y="332.4" font-size="14.3px">norm</tspan><tspan x="327.3" y="328.0" font-size="23px">)</tspan></text>
<g clip-path="url(#cr)">
<path d="M441.00,285.05 L441.50,284.98 L442.00,284.83 L442.50,284.63 L443.00,284.39 L443.50,284.11 L443.70,284.00 L444.00,283.81 L444.50,283.38 L445.00,282.87 L445.50,282.30 L446.00,281.68 L446.50,280.94 L447.00,280.00 L447.50,278.68 L448.00,276.91 L448.50,274.79 L448.80,273.40 L449.00,272.38 L449.50,269.34 L450.00,265.77 L450.40,262.70 L450.50,261.90 L451.00,257.45 L451.50,252.62 L451.70,250.70 L452.00,248.09 L452.50,243.65 L452.80,240.00 L453.00,236.00 L453.50,226.41 L454.00,217.06 L454.50,208.00 L454.96,200.00 L455.00,199.33 L455.50,191.60 L456.00,184.05 L456.40,177.00 L456.50,174.94 L457.00,162.60 L457.50,150.00 L458.00,139.20 L458.50,129.01 L458.60,127.00 L459.00,118.83 L459.50,108.83 L460.00,100.00 L460.50,92.13 L461.00,84.52 L461.50,77.48 L462.00,71.30 L462.50,66.30 L462.80,64.00 L463.00,62.76 L463.50,60.33 L464.00,58.10 L464.50,55.70 L465.00,53.34 L465.20,52.40 L465.70,54.57 L466.20,56.77 L466.50,58.10 L466.70,58.95 L467.20,60.98 L467.70,63.41 L467.80,64.00 L468.20,67.02 L468.70,72.09 L469.20,78.19 L469.70,84.86 L470.20,91.67 L470.70,98.18 L470.85,100.00 L471.20,104.08 L471.70,109.76 L472.20,115.52 L472.70,121.64 L473.10,127.00 L473.20,128.45 L473.70,136.74 L474.20,145.40 L474.50,150.00 L474.70,152.77 L475.20,159.37 L475.70,165.51 L476.20,171.16 L476.67,176.00 L476.70,176.29 L477.20,180.90 L477.70,185.08 L478.20,188.97 L478.27,189.50 L478.70,192.72 L479.20,196.26 L479.70,199.43 L479.80,200.00 L480.20,202.14 L480.70,204.55 L481.20,206.75 L481.50,208.00 L481.70,208.81 L482.20,210.74 L482.70,212.57 L483.20,214.30 L483.70,215.94 L484.00,216.90 L484.20,217.52 L484.70,219.04 L485.20,220.49 L485.70,221.87 L486.20,223.15 L486.30,223.40 L486.70,224.35 L487.20,225.48 L487.70,226.51 L487.90,226.90 L488.20,227.46 L488.70,228.33 L489.20,229.15 L489.70,229.94 L490.00,230.40 L490.20,230.71 L490.70,231.46 L491.20,232.20 L491.70,232.93 L492.20,233.63 L492.70,234.32 L493.20,234.98 L493.70,235.63 L494.00,236.00 L494.20,236.25 L494.70,236.85 L495.20,237.44 L495.70,238.01 L496.20,238.55 L496.70,239.06 L497.20,239.55 L497.70,240.01 L498.00,240.33 L498.20,240.60 L498.70,241.04 L499.20,241.45 L499.70,241.84 L500.20,242.21 L500.70,242.56 L501.20,242.87 L501.70,243.17 L502.00,243.44 L502.20,243.69 L502.70,243.95 L503.20,244.19 L503.70,244.42 L504.20,244.64 L504.70,244.84 L505.20,245.02 L505.70,245.20 L506.00,245.36 L506.20,245.51 L506.70,245.65 L507.20,245.77 L507.70,245.90 L508.20,246.01 L508.70,246.12 L509.20,246.22 L509.70,246.32 L510.20,246.42 L510.70,246.51 L510.90,246.60 L511.20,246.69 L511.70,246.78 L512.20,246.87 L512.70,246.95 L513.20,247.04 L513.70,247.13 L514.20,247.23 L514.70,247.32 L515.20,247.41 L515.70,247.51 L516.20,247.60 L516.70,247.70 L517.20,247.80 L517.70,247.90 L518.10,248.01 L518.20,248.12 L518.70,248.23 L519.20,248.35 L519.70,248.48 L520.20,248.61 L520.70,248.75 L521.20,248.89 L521.70,249.04 L522.20,249.20 L522.70,249.36 L523.20,249.53 L523.70,249.70 L524.20,249.88 L524.70,250.06 L525.20,250.25 L525.70,250.45 L526.10,250.66 L526.20,250.87 L526.70,251.10 L527.20,251.34 L527.70,251.59 L528.20,251.86 L528.70,252.13 L529.20,252.41 L529.70,252.69 L530.20,252.98 L530.70,253.26 L531.20,253.55 L531.70,253.84 L532.20,254.12 L532.70,254.40 L533.20,254.68 L533.70,254.96 L534.20,255.24 L534.70,255.51 L535.20,255.79 L535.70,256.06 L536.20,256.32 L536.70,256.59 L537.20,256.85 L537.70,257.11 L538.20,257.36 L538.70,257.61 L539.20,257.86 L539.70,258.10 L540.20,258.33 L540.70,258.56 L541.20,258.78 L541.40,259.00 L541.70,259.22 L542.20,259.44 L542.70,259.66 L543.20,259.88 L543.70,260.10 L544.20,260.31 L544.70,260.53 L545.20,260.75 L545.70,260.97 L546.20,261.18 L546.70,261.39 L547.20,261.59 L547.70,261.78 L548.20,261.97 L548.70,262.15 L549.20,262.33 L549.70,262.50 L549.90,262.66 L550.20,262.81 L550.70,262.97 L551.20,263.11 L551.70,263.26 L552.20,263.40 L552.70,263.54 L553.20,263.68 L553.70,263.81 L554.20,263.95 L554.70,264.08 L555.20,264.22 L555.70,264.36 L556.20,264.50 L556.70,264.64 L557.20,264.79 L557.70,264.94 L558.20,265.09 L558.70,265.26 L559.20,265.42 L559.70,265.60 L560.20,265.79 L560.60,265.99 L560.70,266.20 L561.20,266.42 L561.70,266.66 L562.20,266.91 L562.70,267.17 L563.20,267.44 L563.70,267.71 L564.20,267.99 L564.70,268.26 L565.20,268.54 L565.70,268.81 L565.90,269.07 L566.20,269.33 L566.70,269.59 L567.20,269.84 L567.70,270.09 L568.20,270.33 L568.70,270.56 L569.20,270.78 L569.70,271.00 L570.20,271.19 L570.70,271.38 L571.20,271.55 L571.30,271.71 L571.70,271.86 L572.20,272.00 L572.70,272.12 L573.20,272.24 L573.70,272.36 L574.20,272.46 L574.70,272.56 L575.20,272.66 L575.60,272.75 L575.70,272.84 L576.20,272.93 L576.70,273.02 L577.20,273.11 L577.70,273.19 L578.20,273.28 L578.70,273.36 L579.20,273.45 L579.70,273.54 L580.20,273.63 L580.70,273.72 L581.20,273.81 L581.70,273.91 L582.20,274.01 L582.70,274.11 L583.20,274.22 L583.70,274.33 L584.10,274.45 L584.20,274.58 L584.70,274.72 L585.20,274.86 L585.70,275.02 L586.20,275.19 L586.70,275.36 L587.20,275.55 L587.70,275.74 L588.20,275.93 L588.70,276.13 L589.20,276.33 L589.70,276.53 L590.20,276.72 L590.70,276.91 L591.20,277.09 L591.70,277.27 L592.20,277.44 L592.60,277.60 L592.70,277.76 L593.20,277.92 L593.70,278.07 L594.20,278.22 L594.70,278.36 L595.20,278.51 L595.70,278.65 L596.20,278.79 L596.70,278.93 L597.20,279.06 L597.70,279.19 L598.20,279.31 L598.70,279.43 L599.20,279.54 L599.70,279.65 L600.00,279.76 L600.20,279.86 L600.70,279.95 L601.20,280.05 L601.70,280.14 L602.20,280.23 L602.70,280.32 L603.20,280.41 L603.70,280.50 L604.20,280.59 L604.70,280.67 L605.20,280.76 L605.70,280.84 L606.20,280.92 L606.70,281.00 L607.20,281.08 L607.70,281.16 L608.20,281.23 L608.70,281.31 L609.20,281.39 L609.70,281.46 L610.20,281.53 L610.70,281.60 L611.20,281.67 L611.70,281.74 L612.20,281.81 L612.70,281.88 L613.20,281.95 L613.35,282.02 L613.70,282.09 L614.20,282.16 L614.70,282.23 L615.20,282.30 L615.70,282.37 L616.20,282.44 L616.70,282.52 L617.20,282.59 L617.70,282.67 L618.20,282.74 L618.70,282.82 L619.20,282.89 L619.70,282.96 L620.20,283.03 L620.70,283.10 L621.20,283.17 L621.70,283.24 L622.20,283.30 L622.70,283.37 L623.20,283.43 L623.70,283.48 L624.20,283.54 L624.70,283.59 L625.20,283.64 L625.70,283.69 L626.20,283.74 L626.70,283.78 L627.20,283.82 L627.70,283.86 L628.20,283.90 L628.70,283.93 L629.20,283.97 L629.70,284.00 L630.20,284.03 L630.70,284.07 L631.20,284.10 L631.70,284.13 L632.20,284.16 L632.70,284.18 L633.20,284.21 L633.70,284.24 L634.20,284.26 L634.70,284.29 L635.20,284.31 L635.70,284.33 L636.20,284.35 L636.70,284.37 L637.20,284.39 L637.70,284.41 L638.20,284.43 L638.70,284.45 L639.20,284.46 L639.70,284.48 L640.00,284.49 L640.20,284.51 L640.70,284.52 L641.20,284.54 L641.70,284.55 L642.20,284.56 L642.70,284.58 L643.20,284.59 L643.70,284.61 L644.20,284.62 L644.70,284.63 L645.20,284.65 L645.70,284.66 L646.20,284.67 L646.70,284.68 L647.20,284.70 L647.70,284.71 L648.20,284.72 L648.70,284.73 L649.20,284.74 L649.70,284.75 L650.20,284.77 L650.70,284.78 L651.20,284.79 L651.70,284.80 L652.20,284.80 L652.70,284.81 L653.20,284.82 L653.70,284.83 L654.20,284.84 L654.70,284.85 L655.20,284.85 L655.70,284.86 L656.20,284.86 L656.70,284.87 L657.20,284.88 L657.70,284.88 L658.20,284.88 L658.70,284.89 L659.20,284.89 L659.70,284.89 L660.00,284.90 L660.20,284.90 L660.70,284.90 L661.20,284.90 L661.70,284.91 L662.20,284.91 L662.70,284.91 L663.20,284.91 L663.70,284.92 L664.20,284.92 L664.70,284.92 L665.20,284.92 L665.70,284.92 L666.20,284.93 L666.70,284.93 L667.20,284.93 L667.70,284.93 L668.20,284.93 L668.70,284.93 L669.20,284.94 L669.70,284.94 L670.20,284.94 L670.70,284.94 L671.20,284.94 L671.70,284.95 L672.20,284.95 L672.70,284.95 L673.20,284.95 L673.70,284.95 L674.20,284.95 L674.70,284.96 L675.20,284.96 L675.70,284.96 L676.20,284.96 L676.70,284.96 L677.20,284.96 L677.70,284.97 L678.20,284.97 L678.70,284.97 L679.20,284.97 L679.70,284.97 L680.20,284.97 L680.70,284.97 L681.20,284.98 L681.70,284.98 L682.20,284.98 L682.70,284.98 L683.20,284.98 L683.70,284.98 L684.20,284.98 L684.70,284.99 L685.20,284.99 L685.70,284.99 L686.20,284.99 L686.70,284.99 L687.20,284.99 L687.70,284.99 L688.20,284.99 L688.70,285.00 L689.20,285.00 L689.70,285.00 L690.20,285.00 L690.70,285.00 L691.20,285.00 L691.70,285.00 L692.20,285.00 L692.70,285.01 L693.20,285.01 L693.70,285.01 L694.20,285.01 L694.70,285.01 L695.20,285.01 L695.70,285.01 L696.20,285.01 L696.70,285.01 L697.20,285.01 L697.70,285.02 L698.20,285.02 L698.70,285.02 L699.20,285.02 L699.70,285.02 L700.20,285.02 L700.70,285.02 L701.20,285.02 L701.70,285.02 L702.20,285.02 L702.70,285.02 L703.20,285.03 L703.70,285.03 L704.20,285.03 L704.70,285.03 L705.20,285.03 L705.70,285.03 L706.20,285.03 L706.70,285.03 L707.20,285.03 L707.70,285.03 L708.20,285.03 L708.70,285.03 L709.20,285.03 L709.70,285.03 L710.20,285.04 L710.70,285.04 L711.20,285.04 L711.70,285.04 L712.20,285.04 L712.70,285.04 L713.20,285.04 L713.70,285.04 L714.20,285.04 L714.70,285.04 L715.20,285.04 L715.70,285.04 L716.20,285.04 L716.70,285.04 L717.20,285.04 L717.70,285.04 L718.20,285.04 L718.70,285.04 L719.20,285.04 L719.70,285.04 L720.20,285.04 L720.70,285.05 L721.20,285.05 L721.70,285.05 L722.20,285.05 L722.70,285.05 L723.20,285.05 L723.70,285.05 L724.20,285.05 L724.70,285.05 L725.20,285.05 L725.70,285.05 L726.20,285.05 L726.70,285.05 L727.20,285.05 L727.70,285.05 L728.20,285.05 L728.70,285.05 L729.20,285.05 L729.70,285.05 L730.20,285.05 L730.70,285.05 L731.20,285.05 L731.70,285.05 L732.20,285.05 L732.70,285.05 L733.20,285.05 L733.70,285.05 L734.20,285.05 L734.70,285.05 L735.00,285.05 L735.00,285.05 L441.00,285.05 Z" fill="#1e90ff" fill-opacity="0.25" stroke="none"/>
<path d="M431.00,285.00 L431.50,284.93 L432.00,284.87 L432.50,284.82 L433.00,284.76 L433.50,284.72 L434.00,284.67 L434.50,284.64 L435.00,284.60 L435.50,284.57 L436.00,284.54 L436.50,284.51 L437.00,284.49 L437.50,284.47 L438.00,284.44 L438.50,284.43 L439.00,284.41 L439.50,284.39 L440.00,284.37 L440.50,284.36 L441.00,284.34 L441.50,284.33 L442.00,284.31 L442.50,284.29 L443.00,284.27 L443.50,284.25 L444.00,284.23 L444.50,284.20 L445.00,284.18 L445.50,284.15 L446.00,284.11 L446.50,284.08 L447.00,284.04 L447.50,283.99 L448.00,283.95 L448.50,283.89 L449.00,283.84 L449.50,283.77 L450.00,283.71 L450.50,283.63 L451.00,283.55 L451.50,283.47 L452.00,283.38 L452.50,283.28 L453.00,283.17 L453.50,283.06 L454.00,282.94 L454.50,282.82 L455.00,282.69 L455.50,282.56 L456.00,282.42 L456.50,282.27 L457.00,282.12 L457.50,281.96 L458.00,281.80 L458.50,281.64 L459.00,281.47 L459.50,281.29 L460.00,281.12 L460.50,280.93 L461.00,280.75 L461.50,280.56 L462.00,280.37 L462.50,280.17 L463.00,279.97 L463.50,279.77 L464.00,279.56 L464.50,279.35 L465.00,279.14 L465.50,278.93 L466.00,278.71 L466.50,278.49 L467.00,278.27 L467.50,278.05 L468.00,277.83 L468.50,277.60 L469.00,277.37 L469.50,277.13 L470.00,276.90 L470.50,276.66 L471.00,276.42 L471.50,276.18 L472.00,275.93 L472.50,275.68 L473.00,275.43 L473.50,275.18 L474.00,274.92 L474.50,274.66 L475.00,274.40 L475.50,274.14 L476.00,273.87 L476.50,273.60 L477.00,273.33 L477.50,273.05 L478.00,272.78 L478.50,272.49 L479.00,272.21 L479.50,271.92 L480.00,271.63 L480.50,271.34 L481.00,271.05 L481.50,270.75 L482.00,270.45 L482.50,270.14 L483.00,269.84 L483.50,269.53 L484.00,269.21 L484.50,268.90 L485.00,268.58 L485.50,268.25 L486.00,267.93 L486.50,267.60 L487.00,267.27 L487.50,266.93 L488.00,266.60 L488.50,266.25 L489.00,265.91 L489.50,265.56 L490.00,265.21 L490.50,264.86 L491.00,264.50 L491.50,264.14 L492.00,263.77 L492.50,263.41 L493.00,263.04 L493.50,262.66 L494.00,262.28 L494.50,261.90 L495.00,261.51 L495.50,261.12 L496.00,260.73 L496.50,260.33 L497.00,259.92 L497.50,259.52 L498.00,259.10 L498.50,258.68 L499.00,258.26 L499.50,257.83 L500.00,257.39 L500.50,256.95 L501.00,256.51 L501.50,256.05 L502.00,255.59 L502.50,255.13 L503.00,254.66 L503.50,254.18 L504.00,253.70 L504.50,253.20 L505.00,252.71 L505.50,252.20 L506.00,251.69 L506.50,251.17 L507.00,250.64 L507.50,250.11 L508.00,249.56 L508.50,249.01 L509.00,248.45 L509.50,247.89 L510.00,247.31 L510.50,246.73 L511.00,246.13 L511.50,245.53 L512.00,244.92 L512.50,244.30 L513.00,243.68 L513.50,243.05 L514.00,242.41 L514.50,241.77 L515.00,241.12 L515.50,240.47 L516.00,239.81 L516.50,239.15 L517.00,238.49 L517.50,237.82 L518.00,237.15 L518.50,236.48 L519.00,235.81 L519.50,235.14 L520.00,234.47 L520.50,233.80 L521.00,233.13 L521.50,232.46 L522.00,231.79 L522.50,231.13 L523.00,230.47 L523.50,229.81 L524.00,229.16 L524.50,228.51 L525.00,227.87 L525.50,227.23 L526.00,226.60 L526.50,225.97 L527.00,225.35 L527.50,224.73 L528.00,224.12 L528.50,223.51 L529.00,222.92 L529.50,222.32 L530.00,221.74 L530.50,221.16 L531.00,220.59 L531.50,220.02 L532.00,219.47 L532.50,218.92 L533.00,218.38 L533.50,217.84 L534.00,217.32 L534.50,216.81 L535.00,216.30 L535.50,215.80 L536.00,215.31 L536.50,214.84 L537.00,214.37 L537.50,213.91 L538.00,213.46 L538.50,213.02 L539.00,212.59 L539.50,212.18 L540.00,211.77 L540.50,211.38 L541.00,210.99 L541.50,210.62 L542.00,210.26 L542.50,209.92 L543.00,209.58 L543.50,209.26 L544.00,208.95 L544.50,208.65 L545.00,208.37 L545.50,208.10 L546.00,207.84 L546.50,207.60 L547.00,207.37 L547.50,207.16 L548.00,206.96 L548.50,206.77 L549.00,206.60 L549.50,206.44 L550.00,206.29 L550.50,206.16 L551.00,206.05 L551.50,205.94 L552.00,205.85 L552.50,205.78 L553.00,205.71 L553.50,205.66 L554.00,205.63 L554.50,205.60 L555.00,205.59 L555.50,205.60 L556.00,205.61 L556.50,205.64 L557.00,205.69 L557.50,205.74 L558.00,205.81 L558.50,205.89 L559.00,205.99 L559.50,206.09 L560.00,206.21 L560.50,206.34 L561.00,206.49 L561.50,206.65 L562.00,206.82 L562.50,207.00 L563.00,207.19 L563.50,207.40 L564.00,207.62 L564.50,207.85 L565.00,208.09 L565.50,208.35 L566.00,208.62 L566.50,208.89 L567.00,209.19 L567.50,209.49 L568.00,209.80 L568.50,210.13 L569.00,210.47 L569.50,210.82 L570.00,211.18 L570.50,211.55 L571.00,211.94 L571.50,212.33 L572.00,212.74 L572.50,213.16 L573.00,213.59 L573.50,214.02 L574.00,214.47 L574.50,214.93 L575.00,215.40 L575.50,215.87 L576.00,216.35 L576.50,216.85 L577.00,217.34 L577.50,217.85 L578.00,218.36 L578.50,218.87 L579.00,219.40 L579.50,219.92 L580.00,220.45 L580.50,220.99 L581.00,221.53 L581.50,222.07 L582.00,222.61 L582.50,223.16 L583.00,223.71 L583.50,224.26 L584.00,224.81 L584.50,225.36 L585.00,225.91 L585.50,226.46 L586.00,227.01 L586.50,227.56 L587.00,228.11 L587.50,228.66 L588.00,229.20 L588.50,229.74 L589.00,230.28 L589.50,230.82 L590.00,231.36 L590.50,231.90 L591.00,232.43 L591.50,232.96 L592.00,233.49 L592.50,234.02 L593.00,234.55 L593.50,235.07 L594.00,235.59 L594.50,236.11 L595.00,236.63 L595.50,237.15 L596.00,237.66 L596.50,238.18 L597.00,238.69 L597.50,239.19 L598.00,239.70 L598.50,240.20 L599.00,240.71 L599.50,241.21 L600.00,241.70 L600.50,242.20 L601.00,242.69 L601.50,243.18 L602.00,243.67 L602.50,244.15 L603.00,244.63 L603.50,245.11 L604.00,245.59 L604.50,246.07 L605.00,246.54 L605.50,247.01 L606.00,247.48 L606.50,247.94 L607.00,248.40 L607.50,248.86 L608.00,249.32 L608.50,249.78 L609.00,250.23 L609.50,250.68 L610.00,251.13 L610.50,251.57 L611.00,252.01 L611.50,252.45 L612.00,252.89 L612.50,253.32 L613.00,253.75 L613.50,254.18 L614.00,254.61 L614.50,255.03 L615.00,255.45 L615.50,255.87 L616.00,256.28 L616.50,256.70 L617.00,257.11 L617.50,257.51 L618.00,257.92 L618.50,258.32 L619.00,258.72 L619.50,259.11 L620.00,259.51 L620.50,259.90 L621.00,260.28 L621.50,260.67 L622.00,261.05 L622.50,261.43 L623.00,261.81 L623.50,262.18 L624.00,262.55 L624.50,262.92 L625.00,263.28 L625.50,263.64 L626.00,264.00 L626.50,264.36 L627.00,264.71 L627.50,265.06 L628.00,265.41 L628.50,265.75 L629.00,266.10 L629.50,266.43 L630.00,266.77 L630.50,267.10 L631.00,267.43 L631.50,267.76 L632.00,268.08 L632.50,268.40 L633.00,268.72 L633.50,269.03 L634.00,269.34 L634.50,269.65 L635.00,269.96 L635.50,270.26 L636.00,270.56 L636.50,270.85 L637.00,271.14 L637.50,271.43 L638.00,271.72 L638.50,272.00 L639.00,272.28 L639.50,272.56 L640.00,272.83 L640.50,273.10 L641.00,273.37 L641.50,273.64 L642.00,273.90 L642.50,274.15 L643.00,274.41 L643.50,274.66 L644.00,274.91 L644.50,275.15 L645.00,275.39 L645.50,275.63 L646.00,275.87 L646.50,276.10 L647.00,276.33 L647.50,276.55 L648.00,276.77 L648.50,276.99 L649.00,277.20 L649.50,277.42 L650.00,277.62 L650.50,277.83 L651.00,278.03 L651.50,278.23 L652.00,278.42 L652.50,278.61 L653.00,278.80 L653.50,278.98 L654.00,279.17 L654.50,279.34 L655.00,279.52 L655.50,279.69 L656.00,279.85 L656.50,280.02 L657.00,280.18 L657.50,280.34 L658.00,280.49 L658.50,280.64 L659.00,280.79 L659.50,280.94 L660.00,281.08 L660.50,281.22 L661.00,281.35 L661.50,281.49 L662.00,281.62 L662.50,281.74 L663.00,281.87 L663.50,281.99 L664.00,282.11 L664.50,282.22 L665.00,282.33 L665.50,282.45 L666.00,282.55 L666.50,282.66 L667.00,282.76 L667.50,282.86 L668.00,282.96 L668.50,283.05 L669.00,283.14 L669.50,283.23 L670.00,283.32 L670.50,283.40 L671.00,283.49 L671.50,283.57 L672.00,283.64 L672.50,283.72 L673.00,283.79 L673.50,283.86 L674.00,283.93 L674.50,284.00 L675.00,284.06 L675.50,284.13 L676.00,284.19 L676.50,284.24 L677.00,284.30 L677.50,284.35 L678.00,284.41 L678.50,284.46 L679.00,284.51 L679.50,284.55 L680.00,284.60 L680.50,284.64 L681.00,284.68 L681.50,284.72 L682.00,284.76 L682.50,284.80 L683.00,284.83 L683.50,284.86 L684.00,284.89 L684.50,284.92 L685.00,284.95 L685.50,284.98 L686.00,285.00 L686.50,285.03 L687.00,285.05 L687.50,285.05 L688.00,285.05 L688.50,285.05 L689.00,285.05 L689.50,285.05 L690.00,285.05 L690.50,285.05 L691.00,285.05 L691.50,285.05 L692.00,285.05 L692.50,285.05 L693.00,285.05 L693.50,285.05 L694.00,285.05 L694.50,285.05 L695.00,285.05 L695.50,285.05 L696.00,285.05 L696.50,285.05 L697.00,285.05 L697.50,285.05 L698.00,285.05 L698.50,285.05 L699.00,285.05 L699.50,285.05 L700.00,285.05 L700.50,285.05 L701.00,285.05 L701.50,285.05 L702.00,285.05 L702.50,285.05 L703.00,285.05 L703.50,285.05 L704.00,285.05 L704.50,285.05 L705.00,285.05 L705.50,285.05 L706.00,285.05 L706.50,285.05 L707.00,285.05 L707.50,285.05 L708.00,285.05 L708.50,285.05 L709.00,285.05 L709.50,285.05 L710.00,285.05 L710.50,285.05 L711.00,285.05 L711.50,285.05 L712.00,285.05 L712.50,285.05 L713.00,285.05 L713.50,285.05 L714.00,285.05 L714.50,285.05 L715.00,285.05 L715.50,285.05 L716.00,285.05 L716.50,285.05 L717.00,285.05 L717.50,285.05 L718.00,285.05 L718.50,285.05 L719.00,285.05 L719.50,285.05 L720.00,285.05 L720.00,285.05 L431.00,285.05 Z" fill="#ff8c00" fill-opacity="0.25" stroke="none"/>
<path d="M441.00,285.05 L441.50,284.98 L442.00,284.83 L442.50,284.63 L443.00,284.39 L443.50,284.11 L443.70,284.00 L444.00,283.81 L444.50,283.38 L445.00,282.87 L445.50,282.30 L446.00,281.68 L446.50,280.94 L447.00,280.00 L447.50,278.68 L448.00,276.91 L448.50,274.79 L448.80,273.40 L449.00,272.38 L449.50,269.34 L450.00,265.77 L450.40,262.70 L450.50,261.90 L451.00,257.45 L451.50,252.62 L451.70,250.70 L452.00,248.09 L452.50,243.65 L452.80,240.00 L453.00,236.00 L453.50,226.41 L454.00,217.06 L454.50,208.00 L454.96,200.00 L455.00,199.33 L455.50,191.60 L456.00,184.05 L456.40,177.00 L456.50,174.94 L457.00,162.60 L457.50,150.00 L458.00,139.20 L458.50,129.01 L458.60,127.00 L459.00,118.83 L459.50,108.83 L460.00,100.00 L460.50,92.13 L461.00,84.52 L461.50,77.48 L462.00,71.30 L462.50,66.30 L462.80,64.00 L463.00,62.76 L463.50,60.33 L464.00,58.10 L464.50,55.70 L465.00,53.34 L465.20,52.40 L465.70,54.57 L466.20,56.77 L466.50,58.10 L466.70,58.95 L467.20,60.98 L467.70,63.41 L467.80,64.00 L468.20,67.02 L468.70,72.09 L469.20,78.19 L469.70,84.86 L470.20,91.67 L470.70,98.18 L470.85,100.00 L471.20,104.08 L471.70,109.76 L472.20,115.52 L472.70,121.64 L473.10,127.00 L473.20,128.45 L473.70,136.74 L474.20,145.40 L474.50,150.00 L474.70,152.77 L475.20,159.37 L475.70,165.51 L476.20,171.16 L476.67,176.00 L476.70,176.29 L477.20,180.90 L477.70,185.08 L478.20,188.97 L478.27,189.50 L478.70,192.72 L479.20,196.26 L479.70,199.43 L479.80,200.00 L480.20,202.14 L480.70,204.55 L481.20,206.75 L481.50,208.00 L481.70,208.81 L482.20,210.74 L482.70,212.57 L483.20,214.30 L483.70,215.94 L484.00,216.90 L484.20,217.52 L484.70,219.04 L485.20,220.49 L485.70,221.87 L486.20,223.15 L486.30,223.40 L486.70,224.35 L487.20,225.48 L487.70,226.51 L487.90,226.90 L488.20,227.46 L488.70,228.33 L489.20,229.15 L489.70,229.94 L490.00,230.40 L490.20,230.71 L490.70,231.46 L491.20,232.20 L491.70,232.93 L492.20,233.63 L492.70,234.32 L493.20,234.98 L493.70,235.63 L494.00,236.00 L494.20,236.25 L494.70,236.85 L495.20,237.44 L495.70,238.01 L496.20,238.55 L496.70,239.06 L497.20,239.55 L497.70,240.01 L498.00,240.33 L498.20,240.60 L498.70,241.04 L499.20,241.45 L499.70,241.84 L500.20,242.21 L500.70,242.56 L501.20,242.87 L501.70,243.17 L502.00,243.44 L502.20,243.69 L502.70,243.95 L503.20,244.19 L503.70,244.42 L504.20,244.64 L504.70,244.84 L505.20,245.02 L505.70,245.20 L506.00,245.36 L506.20,245.51 L506.70,245.65 L507.20,245.77 L507.70,245.90 L508.20,246.01 L508.70,246.12 L509.20,246.22 L509.70,246.32 L510.20,246.42 L510.70,246.51 L510.90,246.60 L511.20,246.69 L511.70,246.78 L512.20,246.87 L512.70,246.95 L513.20,247.04 L513.70,247.13 L514.20,247.23 L514.70,247.32 L515.20,247.41 L515.70,247.51 L516.20,247.60 L516.70,247.70 L517.20,247.80 L517.70,247.90 L518.10,248.01 L518.20,248.12 L518.70,248.23 L519.20,248.35 L519.70,248.48 L520.20,248.61 L520.70,248.75 L521.20,248.89 L521.70,249.04 L522.20,249.20 L522.70,249.36 L523.20,249.53 L523.70,249.70 L524.20,249.88 L524.70,250.06 L525.20,250.25 L525.70,250.45 L526.10,250.66 L526.20,250.87 L526.70,251.10 L527.20,251.34 L527.70,251.59 L528.20,251.86 L528.70,252.13 L529.20,252.41 L529.70,252.69 L530.20,252.98 L530.70,253.26 L531.20,253.55 L531.70,253.84 L532.20,254.12 L532.70,254.40 L533.20,254.68 L533.70,254.96 L534.20,255.24 L534.70,255.51 L535.20,255.79 L535.70,256.06 L536.20,256.32 L536.70,256.59 L537.20,256.85 L537.70,257.11 L538.20,257.36 L538.70,257.61 L539.20,257.86 L539.70,258.10 L540.20,258.33 L540.70,258.56 L541.20,258.78 L541.40,259.00 L541.70,259.22 L542.20,259.44 L542.70,259.66 L543.20,259.88 L543.70,260.10 L544.20,260.31 L544.70,260.53 L545.20,260.75 L545.70,260.97 L546.20,261.18 L546.70,261.39 L547.20,261.59 L547.70,261.78 L548.20,261.97 L548.70,262.15 L549.20,262.33 L549.70,262.50 L549.90,262.66 L550.20,262.81 L550.70,262.97 L551.20,263.11 L551.70,263.26 L552.20,263.40 L552.70,263.54 L553.20,263.68 L553.70,263.81 L554.20,263.95 L554.70,264.08 L555.20,264.22 L555.70,264.36 L556.20,264.50 L556.70,264.64 L557.20,264.79 L557.70,264.94 L558.20,265.09 L558.70,265.26 L559.20,265.42 L559.70,265.60 L560.20,265.79 L560.60,265.99 L560.70,266.20 L561.20,266.42 L561.70,266.66 L562.20,266.91 L562.70,267.17 L563.20,267.44 L563.70,267.71 L564.20,267.99 L564.70,268.26 L565.20,268.54 L565.70,268.81 L565.90,269.07 L566.20,269.33 L566.70,269.59 L567.20,269.84 L567.70,270.09 L568.20,270.33 L568.70,270.56 L569.20,270.78 L569.70,271.00 L570.20,271.19 L570.70,271.38 L571.20,271.55 L571.30,271.71 L571.70,271.86 L572.20,272.00 L572.70,272.12 L573.20,272.24 L573.70,272.36 L574.20,272.46 L574.70,272.56 L575.20,272.66 L575.60,272.75 L575.70,272.84 L576.20,272.93 L576.70,273.02 L577.20,273.11 L577.70,273.19 L578.20,273.28 L578.70,273.36 L579.20,273.45 L579.70,273.54 L580.20,273.63 L580.70,273.72 L581.20,273.81 L581.70,273.91 L582.20,274.01 L582.70,274.11 L583.20,274.22 L583.70,274.33 L584.10,274.45 L584.20,274.58 L584.70,274.72 L585.20,274.86 L585.70,275.02 L586.20,275.19 L586.70,275.36 L587.20,275.55 L587.70,275.74 L588.20,275.93 L588.70,276.13 L589.20,276.33 L589.70,276.53 L590.20,276.72 L590.70,276.91 L591.20,277.09 L591.70,277.27 L592.20,277.44 L592.60,277.60 L592.70,277.76 L593.20,277.92 L593.70,278.07 L594.20,278.22 L594.70,278.36 L595.20,278.51 L595.70,278.65 L596.20,278.79 L596.70,278.93 L597.20,279.06 L597.70,279.19 L598.20,279.31 L598.70,279.43 L599.20,279.54 L599.70,279.65 L600.00,279.76 L600.20,279.86 L600.70,279.95 L601.20,280.05 L601.70,280.14 L602.20,280.23 L602.70,280.32 L603.20,280.41 L603.70,280.50 L604.20,280.59 L604.70,280.67 L605.20,280.76 L605.70,280.84 L606.20,280.92 L606.70,281.00 L607.20,281.08 L607.70,281.16 L608.20,281.23 L608.70,281.31 L609.20,281.39 L609.70,281.46 L610.20,281.53 L610.70,281.60 L611.20,281.67 L611.70,281.74 L612.20,281.81 L612.70,281.88 L613.20,281.95 L613.35,282.02 L613.70,282.09 L614.20,282.16 L614.70,282.23 L615.20,282.30 L615.70,282.37 L616.20,282.44 L616.70,282.52 L617.20,282.59 L617.70,282.67 L618.20,282.74 L618.70,282.82 L619.20,282.89 L619.70,282.96 L620.20,283.03 L620.70,283.10 L621.20,283.17 L621.70,283.24 L622.20,283.30 L622.70,283.37 L623.20,283.43 L623.70,283.48 L624.20,283.54 L624.70,283.59 L625.20,283.64 L625.70,283.69 L626.20,283.74 L626.70,283.78 L627.20,283.82 L627.70,283.86 L628.20,283.90 L628.70,283.93 L629.20,283.97 L629.70,284.00 L630.20,284.03 L630.70,284.07 L631.20,284.10 L631.70,284.13 L632.20,284.16 L632.70,284.18 L633.20,284.21 L633.70,284.24 L634.20,284.26 L634.70,284.29 L635.20,284.31 L635.70,284.33 L636.20,284.35 L636.70,284.37 L637.20,284.39 L637.70,284.41 L638.20,284.43 L638.70,284.45 L639.20,284.46 L639.70,284.48 L640.00,284.49 L640.20,284.51 L640.70,284.52 L641.20,284.54 L641.70,284.55 L642.20,284.56 L642.70,284.58 L643.20,284.59 L643.70,284.61 L644.20,284.62 L644.70,284.63 L645.20,284.65 L645.70,284.66 L646.20,284.67 L646.70,284.68 L647.20,284.70 L647.70,284.71 L648.20,284.72 L648.70,284.73 L649.20,284.74 L649.70,284.75 L650.20,284.77 L650.70,284.78 L651.20,284.79 L651.70,284.80 L652.20,284.80 L652.70,284.81 L653.20,284.82 L653.70,284.83 L654.20,284.84 L654.70,284.85 L655.20,284.85 L655.70,284.86 L656.20,284.86 L656.70,284.87 L657.20,284.88 L657.70,284.88 L658.20,284.88 L658.70,284.89 L659.20,284.89 L659.70,284.89 L660.00,284.90 L660.20,284.90 L660.70,284.90 L661.20,284.90 L661.70,284.91 L662.20,284.91 L662.70,284.91 L663.20,284.91 L663.70,284.92 L664.20,284.92 L664.70,284.92 L665.20,284.92 L665.70,284.92 L666.20,284.93 L666.70,284.93 L667.20,284.93 L667.70,284.93 L668.20,284.93 L668.70,284.93 L669.20,284.94 L669.70,284.94 L670.20,284.94 L670.70,284.94 L671.20,284.94 L671.70,284.95 L672.20,284.95 L672.70,284.95 L673.20,284.95 L673.70,284.95 L674.20,284.95 L674.70,284.96 L675.20,284.96 L675.70,284.96 L676.20,284.96 L676.70,284.96 L677.20,284.96 L677.70,284.97 L678.20,284.97 L678.70,284.97 L679.20,284.97 L679.70,284.97 L680.20,284.97 L680.70,284.97 L681.20,284.98 L681.70,284.98 L682.20,284.98 L682.70,284.98 L683.20,284.98 L683.70,284.98 L684.20,284.98 L684.70,284.99 L685.20,284.99 L685.70,284.99 L686.20,284.99 L686.70,284.99 L687.20,284.99 L687.70,284.99 L688.20,284.99 L688.70,285.00 L689.20,285.00 L689.70,285.00 L690.20,285.00 L690.70,285.00 L691.20,285.00 L691.70,285.00 L692.20,285.00 L692.70,285.01 L693.20,285.01 L693.70,285.01 L694.20,285.01 L694.70,285.01 L695.20,285.01 L695.70,285.01 L696.20,285.01 L696.70,285.01 L697.20,285.01 L697.70,285.02 L698.20,285.02 L698.70,285.02 L699.20,285.02 L699.70,285.02 L700.20,285.02 L700.70,285.02 L701.20,285.02 L701.70,285.02 L702.20,285.02 L702.70,285.02 L703.20,285.03 L703.70,285.03 L704.20,285.03 L704.70,285.03 L705.20,285.03 L705.70,285.03 L706.20,285.03 L706.70,285.03 L707.20,285.03 L707.70,285.03 L708.20,285.03 L708.70,285.03 L709.20,285.03 L709.70,285.03 L710.20,285.04 L710.70,285.04 L711.20,285.04 L711.70,285.04 L712.20,285.04 L712.70,285.04 L713.20,285.04 L713.70,285.04 L714.20,285.04 L714.70,285.04 L715.20,285.04 L715.70,285.04 L716.20,285.04 L716.70,285.04 L717.20,285.04 L717.70,285.04 L718.20,285.04 L718.70,285.04 L719.20,285.04 L719.70,285.04 L720.20,285.04 L720.70,285.05 L721.20,285.05 L721.70,285.05 L722.20,285.05 L722.70,285.05 L723.20,285.05 L723.70,285.05 L724.20,285.05 L724.70,285.05 L725.20,285.05 L725.70,285.05 L726.20,285.05 L726.70,285.05 L727.20,285.05 L727.70,285.05 L728.20,285.05 L728.70,285.05 L729.20,285.05 L729.70,285.05 L730.20,285.05 L730.70,285.05 L731.20,285.05 L731.70,285.05 L732.20,285.05 L732.70,285.05 L733.20,285.05 L733.70,285.05 L734.20,285.05 L734.70,285.05 L735.00,285.05" fill="none" stroke="#1e90ff" stroke-width="1.55" stroke-linejoin="round"/>
<path d="M431.00,285.00 L431.50,284.93 L432.00,284.87 L432.50,284.82 L433.00,284.76 L433.50,284.72 L434.00,284.67 L434.50,284.64 L435.00,284.60 L435.50,284.57 L436.00,284.54 L436.50,284.51 L437.00,284.49 L437.50,284.47 L438.00,284.44 L438.50,284.43 L439.00,284.41 L439.50,284.39 L440.00,284.37 L440.50,284.36 L441.00,284.34 L441.50,284.33 L442.00,284.31 L442.50,284.29 L443.00,284.27 L443.50,284.25 L444.00,284.23 L444.50,284.20 L445.00,284.18 L445.50,284.15 L446.00,284.11 L446.50,284.08 L447.00,284.04 L447.50,283.99 L448.00,283.95 L448.50,283.89 L449.00,283.84 L449.50,283.77 L450.00,283.71 L450.50,283.63 L451.00,283.55 L451.50,283.47 L452.00,283.38 L452.50,283.28 L453.00,283.17 L453.50,283.06 L454.00,282.94 L454.50,282.82 L455.00,282.69 L455.50,282.56 L456.00,282.42 L456.50,282.27 L457.00,282.12 L457.50,281.96 L458.00,281.80 L458.50,281.64 L459.00,281.47 L459.50,281.29 L460.00,281.12 L460.50,280.93 L461.00,280.75 L461.50,280.56 L462.00,280.37 L462.50,280.17 L463.00,279.97 L463.50,279.77 L464.00,279.56 L464.50,279.35 L465.00,279.14 L465.50,278.93 L466.00,278.71 L466.50,278.49 L467.00,278.27 L467.50,278.05 L468.00,277.83 L468.50,277.60 L469.00,277.37 L469.50,277.13 L470.00,276.90 L470.50,276.66 L471.00,276.42 L471.50,276.18 L472.00,275.93 L472.50,275.68 L473.00,275.43 L473.50,275.18 L474.00,274.92 L474.50,274.66 L475.00,274.40 L475.50,274.14 L476.00,273.87 L476.50,273.60 L477.00,273.33 L477.50,273.05 L478.00,272.78 L478.50,272.49 L479.00,272.21 L479.50,271.92 L480.00,271.63 L480.50,271.34 L481.00,271.05 L481.50,270.75 L482.00,270.45 L482.50,270.14 L483.00,269.84 L483.50,269.53 L484.00,269.21 L484.50,268.90 L485.00,268.58 L485.50,268.25 L486.00,267.93 L486.50,267.60 L487.00,267.27 L487.50,266.93 L488.00,266.60 L488.50,266.25 L489.00,265.91 L489.50,265.56 L490.00,265.21 L490.50,264.86 L491.00,264.50 L491.50,264.14 L492.00,263.77 L492.50,263.41 L493.00,263.04 L493.50,262.66 L494.00,262.28 L494.50,261.90 L495.00,261.51 L495.50,261.12 L496.00,260.73 L496.50,260.33 L497.00,259.92 L497.50,259.52 L498.00,259.10 L498.50,258.68 L499.00,258.26 L499.50,257.83 L500.00,257.39 L500.50,256.95 L501.00,256.51 L501.50,256.05 L502.00,255.59 L502.50,255.13 L503.00,254.66 L503.50,254.18 L504.00,253.70 L504.50,253.20 L505.00,252.71 L505.50,252.20 L506.00,251.69 L506.50,251.17 L507.00,250.64 L507.50,250.11 L508.00,249.56 L508.50,249.01 L509.00,248.45 L509.50,247.89 L510.00,247.31 L510.50,246.73 L511.00,246.13 L511.50,245.53 L512.00,244.92 L512.50,244.30 L513.00,243.68 L513.50,243.05 L514.00,242.41 L514.50,241.77 L515.00,241.12 L515.50,240.47 L516.00,239.81 L516.50,239.15 L517.00,238.49 L517.50,237.82 L518.00,237.15 L518.50,236.48 L519.00,235.81 L519.50,235.14 L520.00,234.47 L520.50,233.80 L521.00,233.13 L521.50,232.46 L522.00,231.79 L522.50,231.13 L523.00,230.47 L523.50,229.81 L524.00,229.16 L524.50,228.51 L525.00,227.87 L525.50,227.23 L526.00,226.60 L526.50,225.97 L527.00,225.35 L527.50,224.73 L528.00,224.12 L528.50,223.51 L529.00,222.92 L529.50,222.32 L530.00,221.74 L530.50,221.16 L531.00,220.59 L531.50,220.02 L532.00,219.47 L532.50,218.92 L533.00,218.38 L533.50,217.84 L534.00,217.32 L534.50,216.81 L535.00,216.30 L535.50,215.80 L536.00,215.31 L536.50,214.84 L537.00,214.37 L537.50,213.91 L538.00,213.46 L538.50,213.02 L539.00,212.59 L539.50,212.18 L540.00,211.77 L540.50,211.38 L541.00,210.99 L541.50,210.62 L542.00,210.26 L542.50,209.92 L543.00,209.58 L543.50,209.26 L544.00,208.95 L544.50,208.65 L545.00,208.37 L545.50,208.10 L546.00,207.84 L546.50,207.60 L547.00,207.37 L547.50,207.16 L548.00,206.96 L548.50,206.77 L549.00,206.60 L549.50,206.44 L550.00,206.29 L550.50,206.16 L551.00,206.05 L551.50,205.94 L552.00,205.85 L552.50,205.78 L553.00,205.71 L553.50,205.66 L554.00,205.63 L554.50,205.60 L555.00,205.59 L555.50,205.60 L556.00,205.61 L556.50,205.64 L557.00,205.69 L557.50,205.74 L558.00,205.81 L558.50,205.89 L559.00,205.99 L559.50,206.09 L560.00,206.21 L560.50,206.34 L561.00,206.49 L561.50,206.65 L562.00,206.82 L562.50,207.00 L563.00,207.19 L563.50,207.40 L564.00,207.62 L564.50,207.85 L565.00,208.09 L565.50,208.35 L566.00,208.62 L566.50,208.89 L567.00,209.19 L567.50,209.49 L568.00,209.80 L568.50,210.13 L569.00,210.47 L569.50,210.82 L570.00,211.18 L570.50,211.55 L571.00,211.94 L571.50,212.33 L572.00,212.74 L572.50,213.16 L573.00,213.59 L573.50,214.02 L574.00,214.47 L574.50,214.93 L575.00,215.40 L575.50,215.87 L576.00,216.35 L576.50,216.85 L577.00,217.34 L577.50,217.85 L578.00,218.36 L578.50,218.87 L579.00,219.40 L579.50,219.92 L580.00,220.45 L580.50,220.99 L581.00,221.53 L581.50,222.07 L582.00,222.61 L582.50,223.16 L583.00,223.71 L583.50,224.26 L584.00,224.81 L584.50,225.36 L585.00,225.91 L585.50,226.46 L586.00,227.01 L586.50,227.56 L587.00,228.11 L587.50,228.66 L588.00,229.20 L588.50,229.74 L589.00,230.28 L589.50,230.82 L590.00,231.36 L590.50,231.90 L591.00,232.43 L591.50,232.96 L592.00,233.49 L592.50,234.02 L593.00,234.55 L593.50,235.07 L594.00,235.59 L594.50,236.11 L595.00,236.63 L595.50,237.15 L596.00,237.66 L596.50,238.18 L597.00,238.69 L597.50,239.19 L598.00,239.70 L598.50,240.20 L599.00,240.71 L599.50,241.21 L600.00,241.70 L600.50,242.20 L601.00,242.69 L601.50,243.18 L602.00,243.67 L602.50,244.15 L603.00,244.63 L603.50,245.11 L604.00,245.59 L604.50,246.07 L605.00,246.54 L605.50,247.01 L606.00,247.48 L606.50,247.94 L607.00,248.40 L607.50,248.86 L608.00,249.32 L608.50,249.78 L609.00,250.23 L609.50,250.68 L610.00,251.13 L610.50,251.57 L611.00,252.01 L611.50,252.45 L612.00,252.89 L612.50,253.32 L613.00,253.75 L613.50,254.18 L614.00,254.61 L614.50,255.03 L615.00,255.45 L615.50,255.87 L616.00,256.28 L616.50,256.70 L617.00,257.11 L617.50,257.51 L618.00,257.92 L618.50,258.32 L619.00,258.72 L619.50,259.11 L620.00,259.51 L620.50,259.90 L621.00,260.28 L621.50,260.67 L622.00,261.05 L622.50,261.43 L623.00,261.81 L623.50,262.18 L624.00,262.55 L624.50,262.92 L625.00,263.28 L625.50,263.64 L626.00,264.00 L626.50,264.36 L627.00,264.71 L627.50,265.06 L628.00,265.41 L628.50,265.75 L629.00,266.10 L629.50,266.43 L630.00,266.77 L630.50,267.10 L631.00,267.43 L631.50,267.76 L632.00,268.08 L632.50,268.40 L633.00,268.72 L633.50,269.03 L634.00,269.34 L634.50,269.65 L635.00,269.96 L635.50,270.26 L636.00,270.56 L636.50,270.85 L637.00,271.14 L637.50,271.43 L638.00,271.72 L638.50,272.00 L639.00,272.28 L639.50,272.56 L640.00,272.83 L640.50,273.10 L641.00,273.37 L641.50,273.64 L642.00,273.90 L642.50,274.15 L643.00,274.41 L643.50,274.66 L644.00,274.91 L644.50,275.15 L645.00,275.39 L645.50,275.63 L646.00,275.87 L646.50,276.10 L647.00,276.33 L647.50,276.55 L648.00,276.77 L648.50,276.99 L649.00,277.20 L649.50,277.42 L650.00,277.62 L650.50,277.83 L651.00,278.03 L651.50,278.23 L652.00,278.42 L652.50,278.61 L653.00,278.80 L653.50,278.98 L654.00,279.17 L654.50,279.34 L655.00,279.52 L655.50,279.69 L656.00,279.85 L656.50,280.02 L657.00,280.18 L657.50,280.34 L658.00,280.49 L658.50,280.64 L659.00,280.79 L659.50,280.94 L660.00,281.08 L660.50,281.22 L661.00,281.35 L661.50,281.49 L662.00,281.62 L662.50,281.74 L663.00,281.87 L663.50,281.99 L664.00,282.11 L664.50,282.22 L665.00,282.33 L665.50,282.45 L666.00,282.55 L666.50,282.66 L667.00,282.76 L667.50,282.86 L668.00,282.96 L668.50,283.05 L669.00,283.14 L669.50,283.23 L670.00,283.32 L670.50,283.40 L671.00,283.49 L671.50,283.57 L672.00,283.64 L672.50,283.72 L673.00,283.79 L673.50,283.86 L674.00,283.93 L674.50,284.00 L675.00,284.06 L675.50,284.13 L676.00,284.19 L676.50,284.24 L677.00,284.30 L677.50,284.35 L678.00,284.41 L678.50,284.46 L679.00,284.51 L679.50,284.55 L680.00,284.60 L680.50,284.64 L681.00,284.68 L681.50,284.72 L682.00,284.76 L682.50,284.80 L683.00,284.83 L683.50,284.86 L684.00,284.89 L684.50,284.92 L685.00,284.95 L685.50,284.98 L686.00,285.00 L686.50,285.03 L687.00,285.05 L687.50,285.05 L688.00,285.05 L688.50,285.05 L689.00,285.05 L689.50,285.05 L690.00,285.05 L690.50,285.05 L691.00,285.05 L691.50,285.05 L692.00,285.05 L692.50,285.05 L693.00,285.05 L693.50,285.05 L694.00,285.05 L694.50,285.05 L695.00,285.05 L695.50,285.05 L696.00,285.05 L696.50,285.05 L697.00,285.05 L697.50,285.05 L698.00,285.05 L698.50,285.05 L699.00,285.05 L699.50,285.05 L700.00,285.05 L700.50,285.05 L701.00,285.05 L701.50,285.05 L702.00,285.05 L702.50,285.05 L703.00,285.05 L703.50,285.05 L704.00,285.05 L704.50,285.05 L705.00,285.05 L705.50,285.05 L706.00,285.05 L706.50,285.05 L707.00,285.05 L707.50,285.05 L708.00,285.05 L708.50,285.05 L709.00,285.05 L709.50,285.05 L710.00,285.05 L710.50,285.05 L711.00,285.05 L711.50,285.05 L712.00,285.05 L712.50,285.05 L713.00,285.05 L713.50,285.05 L714.00,285.05 L714.50,285.05 L715.00,285.05 L715.50,285.05 L716.00,285.05 L716.50,285.05 L717.00,285.05 L717.50,285.05 L718.00,285.05 L718.50,285.05 L719.00,285.05 L719.50,285.05 L720.00,285.05" fill="none" stroke="#ff8c00" stroke-width="1.55" stroke-linejoin="round"/>
</g>
<path d="M760,40.8 H417.75 V285.5 H760" fill="none" stroke="#1c1c1c" stroke-width="1.1"/>
<line x1="414.25" x2="417.75" y1="285.50" y2="285.50" stroke="#1c1c1c" stroke-width="1.1"/><text x="411.7" y="291.10" text-anchor="end">0</text>
<line x1="414.25" x2="417.75" y1="255.36" y2="255.36" stroke="#1c1c1c" stroke-width="1.1"/><text x="411.7" y="261.11" text-anchor="end">1</text>
<line x1="414.25" x2="417.75" y1="225.22" y2="225.22" stroke="#1c1c1c" stroke-width="1.1"/><text x="411.7" y="231.12" text-anchor="end">2</text>
<line x1="414.25" x2="417.75" y1="195.08" y2="195.08" stroke="#1c1c1c" stroke-width="1.1"/><text x="411.7" y="201.13" text-anchor="end">3</text>
<line x1="414.25" x2="417.75" y1="164.94" y2="164.94" stroke="#1c1c1c" stroke-width="1.1"/><text x="411.7" y="171.14" text-anchor="end">4</text>
<line x1="414.25" x2="417.75" y1="134.80" y2="134.80" stroke="#1c1c1c" stroke-width="1.1"/><text x="411.7" y="141.15" text-anchor="end">5</text>
<line x1="414.25" x2="417.75" y1="104.66" y2="104.66" stroke="#1c1c1c" stroke-width="1.1"/><text x="411.7" y="111.16" text-anchor="end">6</text>
<line x1="414.25" x2="417.75" y1="74.52" y2="74.52" stroke="#1c1c1c" stroke-width="1.1"/><text x="411.7" y="81.17" text-anchor="end">7</text>
<line x1="414.25" x2="417.75" y1="44.38" y2="44.38" stroke="#1c1c1c" stroke-width="1.1"/><text x="411.7" y="51.18" text-anchor="end">8</text>
<line x1="462.50" x2="462.50" y1="285.5" y2="288.80" stroke="#1c1c1c" stroke-width="1.1"/><text x="463.40" y="305.5" text-anchor="middle">0<tspan dx="-1.5">.</tspan><tspan dx="-0.6">0</tspan></text>
<line x1="515.36" x2="515.36" y1="285.5" y2="288.80" stroke="#1c1c1c" stroke-width="1.1"/><text x="516.26" y="305.5" text-anchor="middle">0<tspan dx="-1.5">.</tspan><tspan dx="-0.6">2</tspan></text>
<line x1="568.22" x2="568.22" y1="285.5" y2="288.80" stroke="#1c1c1c" stroke-width="1.1"/><text x="569.12" y="305.5" text-anchor="middle">0<tspan dx="-1.5">.</tspan><tspan dx="-0.6">4</tspan></text>
<line x1="621.08" x2="621.08" y1="285.5" y2="288.80" stroke="#1c1c1c" stroke-width="1.1"/><text x="621.98" y="305.5" text-anchor="middle">0<tspan dx="-1.5">.</tspan><tspan dx="-0.6">6</tspan></text>
<line x1="673.94" x2="673.94" y1="285.5" y2="288.80" stroke="#1c1c1c" stroke-width="1.1"/><text x="674.84" y="305.5" text-anchor="middle">0<tspan dx="-1.5">.</tspan><tspan dx="-0.6">8</tspan></text>
<line x1="726.80" x2="726.80" y1="285.5" y2="288.80" stroke="#1c1c1c" stroke-width="1.1"/><text x="727.70" y="305.5" text-anchor="middle">1<tspan dx="-1.5">.</tspan><tspan dx="-0.6">0</tspan></text>
<text x="542.6" y="59.8">MC-Dropout</text>
<text x="494.7" y="327.7" font-size="18.85px">Model Uncertainty</text><text y="327.7"><tspan x="640.3" y="328.0" font-size="23px">(</tspan><tspan x="647.6" y="327.7" font-size="21px">I</tspan><tspan x="655.1" y="332.4" font-size="14.3px">norm</tspan><tspan x="685.4" y="328.0" font-size="23px">)</tspan></text>
</svg>
</body></html>
